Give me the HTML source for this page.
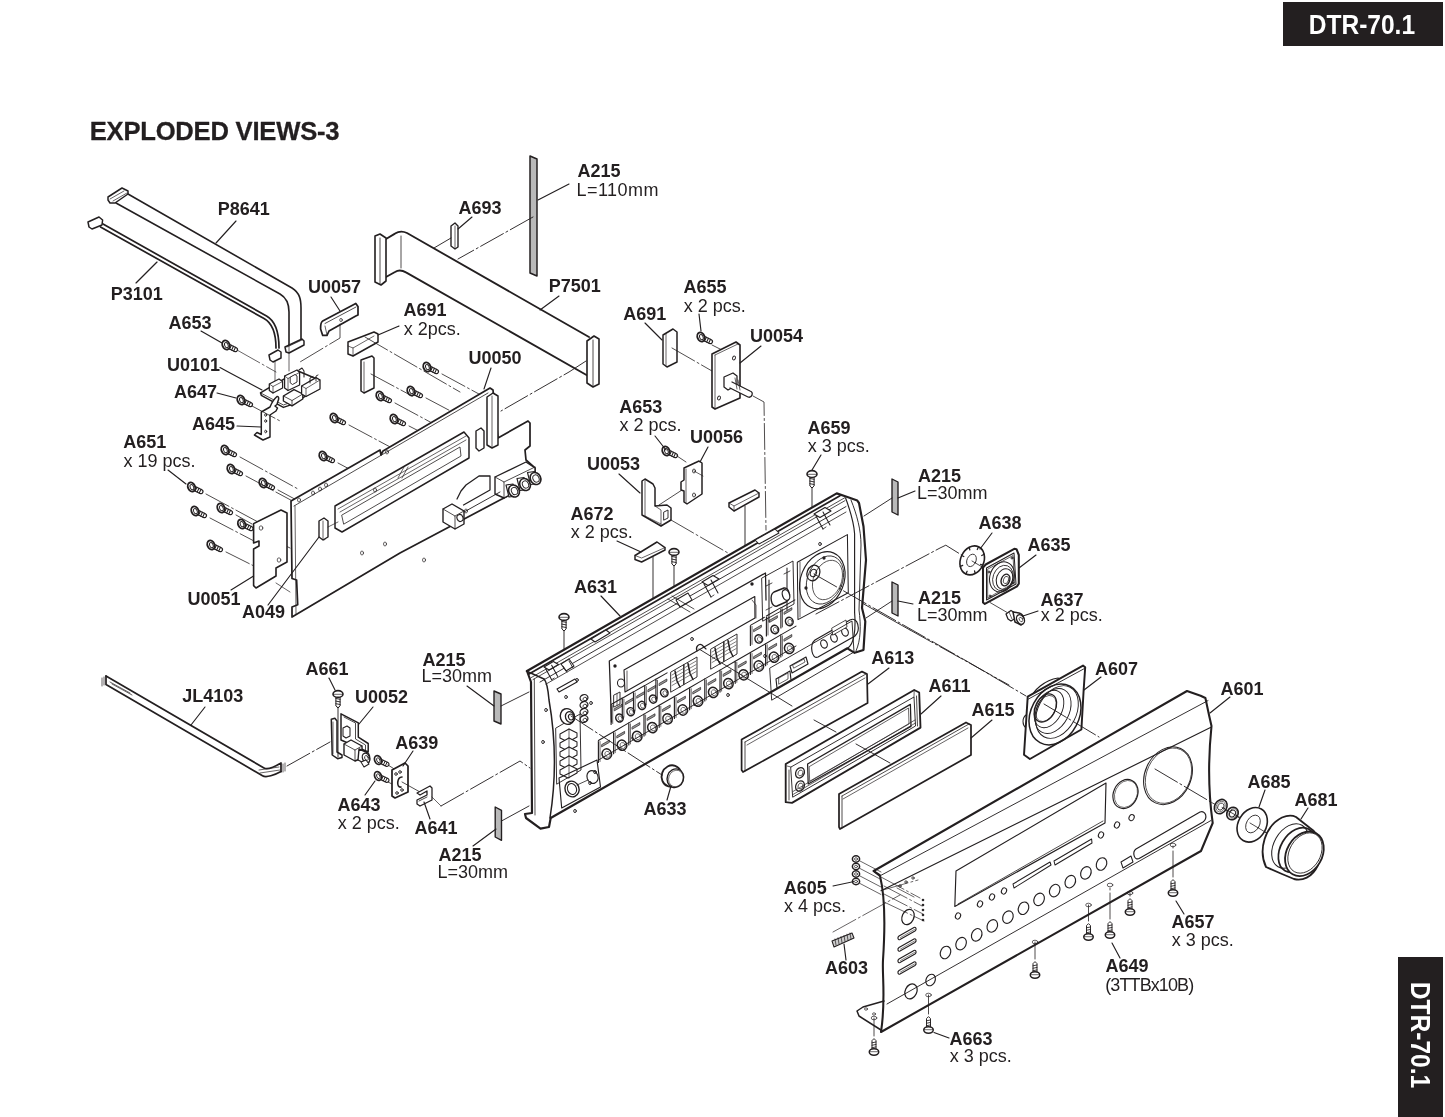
<!DOCTYPE html>
<html><head><meta charset="utf-8"><style>
html,body{margin:0;padding:0;background:#fff;}
body{width:1445px;height:1117px;overflow:hidden;position:relative;}
svg{position:absolute;left:0;top:0;will-change:transform;}
.b{font-family:"Liberation Sans",sans-serif;font-weight:bold;font-size:18px;fill:#231f20;}
.r{font-family:"Liberation Sans",sans-serif;font-size:18px;fill:#231f20;}
</style></head><body>
<svg width="1445" height="1117" viewBox="0 0 1445 1117" stroke-linecap="round" stroke-linejoin="round">
<polygon points="108,197 122,188 128,191 128,194 115,203 110,203 108,200" fill="#fff" stroke="#231f20" stroke-width="1.49" stroke-linejoin="round" />
<polyline points="110,199 124,191" fill="none" stroke="#231f20" stroke-width="0.69" />
<polyline points="113,201 127,193" fill="none" stroke="#231f20" stroke-width="0.69" />
<path d="M128,194 L292,288 C300,293 301,300 301,308 L301,339" fill="none" stroke="#231f20" stroke-width="1.61" />
<path d="M116,203 L280,294 C287,298 289,305 289,312 L289,345" fill="none" stroke="#231f20" stroke-width="1.61" />
<polygon points="285,347 302,339 304,341 304,345 289,353 286,352" fill="#fff" stroke="#231f20" stroke-width="1.49" stroke-linejoin="round" />
<polyline points="287,347 302,340" fill="none" stroke="#231f20" stroke-width="0.69" />
<polygon points="88,222 99,217 102.6,220 102,225 92,229 89,227" fill="#fff" stroke="#231f20" stroke-width="1.49" stroke-linejoin="round" />
<path d="M100.5,227 L264,318.5 C273,323.5 276,333 276,348" fill="none" stroke="#231f20" stroke-width="1.72" />
<path d="M103,224 L266.5,316 C275.5,321 279,332 279,348" fill="none" stroke="#231f20" stroke-width="1.72" />
<polygon points="269,355 278,350 281,352 281,358 273,362 270,360" fill="#fff" stroke="#231f20" stroke-width="1.49" stroke-linejoin="round" />
<path d="M386,239 L395,233.6 C399,231 403,231 407,233 L589,337" fill="none" stroke="#231f20" stroke-width="1.84" />
<path d="M386,277 L395,272 C398,270 402,270 406,272.4 L590,377" fill="none" stroke="#231f20" stroke-width="1.84" />
<polyline points="401,236 401,268" fill="none" stroke="#231f20" stroke-width="0.8" />
<polygon points="375,236 380,234 386,238 386,281 381,285 375,282" fill="#fff" stroke="#231f20" stroke-width="1.61" stroke-linejoin="round" />
<polyline points="380,238 380,284" fill="none" stroke="#231f20" stroke-width="0.8" />
<polygon points="587,341 594,336 599,339 599,384 593,387 587,383" fill="#fff" stroke="#231f20" stroke-width="1.61" stroke-linejoin="round" />
<polyline points="593,340 593,386" fill="none" stroke="#231f20" stroke-width="0.8" />
<polygon points="530,156 537,159 537,276 530,273" fill="#b9b9b9" stroke="#231f20" stroke-width="1.49" stroke-linejoin="round" />
<polygon points="451,226 455,223 458,226 458,247 455,249 451,246" fill="#fff" stroke="#231f20" stroke-width="1.38" stroke-linejoin="round" />
<polyline points="455,226 455,248" fill="none" stroke="#231f20" stroke-width="0.69" />
<polyline points="533,217 458,259" fill="none" stroke="#231f20" stroke-width="0.92" stroke-dasharray="26 3 2 3"/>
<polyline points="451,238 434,248" fill="none" stroke="#231f20" stroke-width="0.92" stroke-dasharray="26 3 2 3"/>
<path d="M322.7,321 L355.8,303.5 L358,306.6 L358,315 L355.8,316 L329,331 L327,335.4 L322.7,335.4 L320.6,329 C320.5,325 321,322 322.7,321 Z" fill="#fff" stroke="#231f20" stroke-width="1.72" />
<polyline points="325,323.5 356,307" fill="none" stroke="#231f20" stroke-width="0.8" />
<polyline points="327,335 325,326" fill="none" stroke="#231f20" stroke-width="0.69" />
<ellipse cx="341" cy="320" rx="1.3" ry="1.6" transform="rotate(0 341 320)" fill="none" stroke="#231f20" stroke-width="0.69"/>
<polyline points="340,324 340,338 300,362" fill="none" stroke="#231f20" stroke-width="0.8" stroke-dasharray="26 3 2 3"/>
<polyline points="289,345 289,352 289,390" fill="none" stroke="#231f20" stroke-width="0.69" stroke-dasharray="26 3 2 3"/>
<polyline points="275,362 275,385" fill="none" stroke="#231f20" stroke-width="0.69" stroke-dasharray="26 3 2 3"/>
<polyline points="237,350 276,372" fill="none" stroke="#231f20" stroke-width="0.69" stroke-dasharray="26 3 2 3"/>
<polygon points="260.5,392.9 268,388.4 298,371 319.3,380 319.3,388.8 307.6,394.9 291.5,404.6 283.4,407.4 261.3,395.3" fill="#fff" stroke="#231f20" stroke-width="1.49" stroke-linejoin="round" />
<polyline points="260.5,392.9 283.4,405 291.5,402 319.3,386.5" fill="none" stroke="#231f20" stroke-width="0.8" />
<polygon points="269.3,384 279,379 282.6,381.5 282.6,388 273,393 269.3,390.5" fill="#fff" stroke="#231f20" stroke-width="1.26" stroke-linejoin="round" />
<polyline points="269.3,384 273,386.5 282.6,381.5" fill="none" stroke="#231f20" stroke-width="0.69" />
<polyline points="273,386.5 273,393" fill="none" stroke="#231f20" stroke-width="0.69" />
<polygon points="284.6,376 297,370 299.6,372.5 299.6,385 288,390.5 284.6,388" fill="#fff" stroke="#231f20" stroke-width="1.26" stroke-linejoin="round" />
<polyline points="284.6,376 288,378.5 299.6,372.5" fill="none" stroke="#231f20" stroke-width="0.69" />
<polyline points="288,378.5 288,390.5" fill="none" stroke="#231f20" stroke-width="0.69" />
<polygon points="290.5,377 295,374.5 297,376 297,382 292.5,384.5 290.5,383" fill="#fff" stroke="#231f20" stroke-width="0.92" stroke-linejoin="round" />
<polygon points="283.4,396 294,389.6 302.8,394 302.8,399 292,405.8 283.4,401" fill="#fff" stroke="#231f20" stroke-width="1.38" stroke-linejoin="round" />
<polyline points="283.4,396 292,400.5 302.8,394" fill="none" stroke="#231f20" stroke-width="0.8" />
<polyline points="292,400.5 292,405.8" fill="none" stroke="#231f20" stroke-width="0.8" />
<polygon points="301.6,386 316,377.6 320,380 320,389 306,396.5 301.6,394" fill="#fff" stroke="#231f20" stroke-width="1.26" stroke-linejoin="round" />
<polyline points="301.6,386 306,388.5 320,380" fill="none" stroke="#231f20" stroke-width="0.69" />
<polyline points="306,388.5 306,396.5" fill="none" stroke="#231f20" stroke-width="0.69" />
<polyline points="310,383 310,378 313,376.5" fill="none" stroke="#231f20" stroke-width="0.92" />
<polyline points="316,381 316,376 318,375" fill="none" stroke="#231f20" stroke-width="0.92" />
<polyline points="299,370 302,368 304,371 304,377" fill="none" stroke="#231f20" stroke-width="1.03" />
<path d="M261.3,412 L270,407 C272,402 274,399 277,396.5 C279,396 279,399 278,401 L277,404.5 L275,406 L277.5,408 L276,411 L270,415 L270,437 L263,440 L254.4,435 L257,432.5 L261.3,434.5 Z" fill="#fff" stroke="#231f20" stroke-width="1.49" />
<ellipse cx="265.7" cy="415" rx="1" ry="1.3" transform="rotate(0 265.7 415)" fill="none" stroke="#231f20" stroke-width="0.92"/>
<ellipse cx="265.7" cy="421" rx="1" ry="1.3" transform="rotate(0 265.7 421)" fill="none" stroke="#231f20" stroke-width="0.92"/>
<ellipse cx="265.7" cy="431.5" rx="1" ry="1.3" transform="rotate(0 265.7 431.5)" fill="none" stroke="#231f20" stroke-width="0.92"/>
<path d="M226.88,347.76 L234.52,351.49 A2.1,2.1 0 0 0 236.36,347.72 L228.72,343.99 Z" fill="#fff" stroke="#231f20" stroke-width="1.2"/>
<polyline points="229.57,349.08 231.41,345.3" fill="none" stroke="#231f20" stroke-width="1.03" />
<polyline points="231.64,350.09 233.48,346.31" fill="none" stroke="#231f20" stroke-width="1.03" />
<polyline points="233.71,351.1 235.55,347.32" fill="none" stroke="#231f20" stroke-width="1.03" />
<ellipse cx="226" cy="345" rx="3.5" ry="4.8" transform="rotate(-22 226 345)" fill="#fff" stroke="#231f20" stroke-width="1.84"/>
<ellipse cx="226.4" cy="345.2" rx="1.7" ry="2.7" transform="rotate(-22 226.4 345.2)" fill="none" stroke="#231f20" stroke-width="0.92"/>
<path d="M241.88,402.76 L249.52,406.49 A2.1,2.1 0 0 0 251.36,402.72 L243.72,398.99 Z" fill="#fff" stroke="#231f20" stroke-width="1.2"/>
<polyline points="244.57,404.08 246.41,400.3" fill="none" stroke="#231f20" stroke-width="1.03" />
<polyline points="246.64,405.09 248.48,401.31" fill="none" stroke="#231f20" stroke-width="1.03" />
<polyline points="248.71,406.1 250.55,402.32" fill="none" stroke="#231f20" stroke-width="1.03" />
<ellipse cx="241" cy="400" rx="3.5" ry="4.8" transform="rotate(-22 241 400)" fill="#fff" stroke="#231f20" stroke-width="1.84"/>
<ellipse cx="241.4" cy="400.2" rx="1.7" ry="2.7" transform="rotate(-22 241.4 400.2)" fill="none" stroke="#231f20" stroke-width="0.92"/>
<path d="M334.88,420.76 L342.52,424.49 A2.1,2.1 0 0 0 344.36,420.72 L336.72,416.99 Z" fill="#fff" stroke="#231f20" stroke-width="1.2"/>
<polyline points="337.57,422.08 339.41,418.3" fill="none" stroke="#231f20" stroke-width="1.03" />
<polyline points="339.64,423.09 341.48,419.31" fill="none" stroke="#231f20" stroke-width="1.03" />
<polyline points="341.71,424.1 343.55,420.32" fill="none" stroke="#231f20" stroke-width="1.03" />
<ellipse cx="334" cy="418" rx="3.5" ry="4.8" transform="rotate(-22 334 418)" fill="#fff" stroke="#231f20" stroke-width="1.84"/>
<ellipse cx="334.4" cy="418.2" rx="1.7" ry="2.7" transform="rotate(-22 334.4 418.2)" fill="none" stroke="#231f20" stroke-width="0.92"/>
<path d="M225.88,452.76 L233.52,456.49 A2.1,2.1 0 0 0 235.36,452.72 L227.72,448.99 Z" fill="#fff" stroke="#231f20" stroke-width="1.2"/>
<polyline points="228.57,454.08 230.41,450.3" fill="none" stroke="#231f20" stroke-width="1.03" />
<polyline points="230.64,455.09 232.48,451.31" fill="none" stroke="#231f20" stroke-width="1.03" />
<polyline points="232.71,456.1 234.55,452.32" fill="none" stroke="#231f20" stroke-width="1.03" />
<ellipse cx="225" cy="450" rx="3.5" ry="4.8" transform="rotate(-22 225 450)" fill="#fff" stroke="#231f20" stroke-width="1.84"/>
<ellipse cx="225.4" cy="450.2" rx="1.7" ry="2.7" transform="rotate(-22 225.4 450.2)" fill="none" stroke="#231f20" stroke-width="0.92"/>
<path d="M323.88,458.76 L331.52,462.49 A2.1,2.1 0 0 0 333.36,458.72 L325.72,454.99 Z" fill="#fff" stroke="#231f20" stroke-width="1.2"/>
<polyline points="326.57,460.08 328.41,456.3" fill="none" stroke="#231f20" stroke-width="1.03" />
<polyline points="328.64,461.09 330.48,457.31" fill="none" stroke="#231f20" stroke-width="1.03" />
<polyline points="330.71,462.1 332.55,458.32" fill="none" stroke="#231f20" stroke-width="1.03" />
<ellipse cx="323" cy="456" rx="3.5" ry="4.8" transform="rotate(-22 323 456)" fill="#fff" stroke="#231f20" stroke-width="1.84"/>
<ellipse cx="323.4" cy="456.2" rx="1.7" ry="2.7" transform="rotate(-22 323.4 456.2)" fill="none" stroke="#231f20" stroke-width="0.92"/>
<path d="M231.88,471.76 L239.52,475.49 A2.1,2.1 0 0 0 241.36,471.72 L233.72,467.99 Z" fill="#fff" stroke="#231f20" stroke-width="1.2"/>
<polyline points="234.57,473.08 236.41,469.3" fill="none" stroke="#231f20" stroke-width="1.03" />
<polyline points="236.64,474.09 238.48,470.31" fill="none" stroke="#231f20" stroke-width="1.03" />
<polyline points="238.71,475.1 240.55,471.32" fill="none" stroke="#231f20" stroke-width="1.03" />
<ellipse cx="231" cy="469" rx="3.5" ry="4.8" transform="rotate(-22 231 469)" fill="#fff" stroke="#231f20" stroke-width="1.84"/>
<ellipse cx="231.4" cy="469.2" rx="1.7" ry="2.7" transform="rotate(-22 231.4 469.2)" fill="none" stroke="#231f20" stroke-width="0.92"/>
<path d="M263.88,485.76 L271.52,489.49 A2.1,2.1 0 0 0 273.36,485.72 L265.72,481.99 Z" fill="#fff" stroke="#231f20" stroke-width="1.2"/>
<polyline points="266.57,487.08 268.41,483.3" fill="none" stroke="#231f20" stroke-width="1.03" />
<polyline points="268.64,488.09 270.48,484.31" fill="none" stroke="#231f20" stroke-width="1.03" />
<polyline points="270.71,489.1 272.55,485.32" fill="none" stroke="#231f20" stroke-width="1.03" />
<ellipse cx="263" cy="483" rx="3.5" ry="4.8" transform="rotate(-22 263 483)" fill="#fff" stroke="#231f20" stroke-width="1.84"/>
<ellipse cx="263.4" cy="483.2" rx="1.7" ry="2.7" transform="rotate(-22 263.4 483.2)" fill="none" stroke="#231f20" stroke-width="0.92"/>
<path d="M192.38,489.76 L200.02,493.49 A2.1,2.1 0 0 0 201.86,489.72 L194.22,485.99 Z" fill="#fff" stroke="#231f20" stroke-width="1.2"/>
<polyline points="195.07,491.08 196.91,487.3" fill="none" stroke="#231f20" stroke-width="1.03" />
<polyline points="197.14,492.09 198.98,488.31" fill="none" stroke="#231f20" stroke-width="1.03" />
<polyline points="199.21,493.1 201.05,489.32" fill="none" stroke="#231f20" stroke-width="1.03" />
<ellipse cx="191.5" cy="487" rx="3.5" ry="4.8" transform="rotate(-22 191.5 487)" fill="#fff" stroke="#231f20" stroke-width="1.84"/>
<ellipse cx="191.9" cy="487.2" rx="1.7" ry="2.7" transform="rotate(-22 191.9 487.2)" fill="none" stroke="#231f20" stroke-width="0.92"/>
<path d="M221.88,510.76 L229.52,514.49 A2.1,2.1 0 0 0 231.36,510.72 L223.72,506.99 Z" fill="#fff" stroke="#231f20" stroke-width="1.2"/>
<polyline points="224.57,512.08 226.41,508.3" fill="none" stroke="#231f20" stroke-width="1.03" />
<polyline points="226.64,513.09 228.48,509.31" fill="none" stroke="#231f20" stroke-width="1.03" />
<polyline points="228.71,514.1 230.55,510.32" fill="none" stroke="#231f20" stroke-width="1.03" />
<ellipse cx="221" cy="508" rx="3.5" ry="4.8" transform="rotate(-22 221 508)" fill="#fff" stroke="#231f20" stroke-width="1.84"/>
<ellipse cx="221.4" cy="508.2" rx="1.7" ry="2.7" transform="rotate(-22 221.4 508.2)" fill="none" stroke="#231f20" stroke-width="0.92"/>
<path d="M195.88,513.76 L203.52,517.49 A2.1,2.1 0 0 0 205.36,513.72 L197.72,509.99 Z" fill="#fff" stroke="#231f20" stroke-width="1.2"/>
<polyline points="198.57,515.08 200.41,511.3" fill="none" stroke="#231f20" stroke-width="1.03" />
<polyline points="200.64,516.09 202.48,512.31" fill="none" stroke="#231f20" stroke-width="1.03" />
<polyline points="202.71,517.1 204.55,513.32" fill="none" stroke="#231f20" stroke-width="1.03" />
<ellipse cx="195" cy="511" rx="3.5" ry="4.8" transform="rotate(-22 195 511)" fill="#fff" stroke="#231f20" stroke-width="1.84"/>
<ellipse cx="195.4" cy="511.2" rx="1.7" ry="2.7" transform="rotate(-22 195.4 511.2)" fill="none" stroke="#231f20" stroke-width="0.92"/>
<path d="M242.48,526.76 L250.12,530.49 A2.1,2.1 0 0 0 251.96,526.72 L244.32,522.99 Z" fill="#fff" stroke="#231f20" stroke-width="1.2"/>
<polyline points="245.17,528.08 247.01,524.3" fill="none" stroke="#231f20" stroke-width="1.03" />
<polyline points="247.24,529.09 249.08,525.31" fill="none" stroke="#231f20" stroke-width="1.03" />
<polyline points="249.31,530.1 251.15,526.32" fill="none" stroke="#231f20" stroke-width="1.03" />
<ellipse cx="241.6" cy="524" rx="3.5" ry="4.8" transform="rotate(-22 241.6 524)" fill="#fff" stroke="#231f20" stroke-width="1.84"/>
<ellipse cx="242" cy="524.2" rx="1.7" ry="2.7" transform="rotate(-22 242 524.2)" fill="none" stroke="#231f20" stroke-width="0.92"/>
<path d="M211.88,547.76 L219.52,551.49 A2.1,2.1 0 0 0 221.36,547.72 L213.72,543.99 Z" fill="#fff" stroke="#231f20" stroke-width="1.2"/>
<polyline points="214.57,549.08 216.41,545.3" fill="none" stroke="#231f20" stroke-width="1.03" />
<polyline points="216.64,550.09 218.48,546.31" fill="none" stroke="#231f20" stroke-width="1.03" />
<polyline points="218.71,551.1 220.55,547.32" fill="none" stroke="#231f20" stroke-width="1.03" />
<ellipse cx="211" cy="545" rx="3.5" ry="4.8" transform="rotate(-22 211 545)" fill="#fff" stroke="#231f20" stroke-width="1.84"/>
<ellipse cx="211.4" cy="545.2" rx="1.7" ry="2.7" transform="rotate(-22 211.4 545.2)" fill="none" stroke="#231f20" stroke-width="0.92"/>
<path d="M380.88,398.76 L388.52,402.49 A2.1,2.1 0 0 0 390.36,398.72 L382.72,394.99 Z" fill="#fff" stroke="#231f20" stroke-width="1.2"/>
<polyline points="383.57,400.08 385.41,396.3" fill="none" stroke="#231f20" stroke-width="1.03" />
<polyline points="385.64,401.09 387.48,397.31" fill="none" stroke="#231f20" stroke-width="1.03" />
<polyline points="387.71,402.1 389.55,398.32" fill="none" stroke="#231f20" stroke-width="1.03" />
<ellipse cx="380" cy="396" rx="3.5" ry="4.8" transform="rotate(-22 380 396)" fill="#fff" stroke="#231f20" stroke-width="1.84"/>
<ellipse cx="380.4" cy="396.2" rx="1.7" ry="2.7" transform="rotate(-22 380.4 396.2)" fill="none" stroke="#231f20" stroke-width="0.92"/>
<path d="M411.88,393.76 L419.52,397.49 A2.1,2.1 0 0 0 421.36,393.72 L413.72,389.99 Z" fill="#fff" stroke="#231f20" stroke-width="1.2"/>
<polyline points="414.57,395.08 416.41,391.3" fill="none" stroke="#231f20" stroke-width="1.03" />
<polyline points="416.64,396.09 418.48,392.31" fill="none" stroke="#231f20" stroke-width="1.03" />
<polyline points="418.71,397.1 420.55,393.32" fill="none" stroke="#231f20" stroke-width="1.03" />
<ellipse cx="411" cy="391" rx="3.5" ry="4.8" transform="rotate(-22 411 391)" fill="#fff" stroke="#231f20" stroke-width="1.84"/>
<ellipse cx="411.4" cy="391.2" rx="1.7" ry="2.7" transform="rotate(-22 411.4 391.2)" fill="none" stroke="#231f20" stroke-width="0.92"/>
<path d="M427.88,369.76 L435.52,373.49 A2.1,2.1 0 0 0 437.36,369.72 L429.72,365.99 Z" fill="#fff" stroke="#231f20" stroke-width="1.2"/>
<polyline points="430.57,371.08 432.41,367.3" fill="none" stroke="#231f20" stroke-width="1.03" />
<polyline points="432.64,372.09 434.48,368.31" fill="none" stroke="#231f20" stroke-width="1.03" />
<polyline points="434.71,373.1 436.55,369.32" fill="none" stroke="#231f20" stroke-width="1.03" />
<ellipse cx="427" cy="367" rx="3.5" ry="4.8" transform="rotate(-22 427 367)" fill="#fff" stroke="#231f20" stroke-width="1.84"/>
<ellipse cx="427.4" cy="367.2" rx="1.7" ry="2.7" transform="rotate(-22 427.4 367.2)" fill="none" stroke="#231f20" stroke-width="0.92"/>
<path d="M394.88,421.76 L402.52,425.49 A2.1,2.1 0 0 0 404.36,421.72 L396.72,417.99 Z" fill="#fff" stroke="#231f20" stroke-width="1.2"/>
<polyline points="397.57,423.08 399.41,419.3" fill="none" stroke="#231f20" stroke-width="1.03" />
<polyline points="399.64,424.09 401.48,420.31" fill="none" stroke="#231f20" stroke-width="1.03" />
<polyline points="401.71,425.1 403.55,421.32" fill="none" stroke="#231f20" stroke-width="1.03" />
<ellipse cx="394" cy="419" rx="3.5" ry="4.8" transform="rotate(-22 394 419)" fill="#fff" stroke="#231f20" stroke-width="1.84"/>
<ellipse cx="394.4" cy="419.2" rx="1.7" ry="2.7" transform="rotate(-22 394.4 419.2)" fill="none" stroke="#231f20" stroke-width="0.92"/>
<polyline points="252,406 282,422" fill="none" stroke="#231f20" stroke-width="0.8" stroke-dasharray="26 3 2 3"/>
<polyline points="349,425 392,448" fill="none" stroke="#231f20" stroke-width="0.8" stroke-dasharray="26 3 2 3"/>
<polyline points="240,457 298,489" fill="none" stroke="#231f20" stroke-width="0.8" stroke-dasharray="26 3 2 3"/>
<polyline points="338,463 385,488" fill="none" stroke="#231f20" stroke-width="0.8" stroke-dasharray="26 3 2 3"/>
<polyline points="246,476 300,505" fill="none" stroke="#231f20" stroke-width="0.8" stroke-dasharray="26 3 2 3"/>
<polyline points="278,490 302,503" fill="none" stroke="#231f20" stroke-width="0.8" stroke-dasharray="26 3 2 3"/>
<polyline points="206,494 258,522" fill="none" stroke="#231f20" stroke-width="0.8" stroke-dasharray="26 3 2 3"/>
<polyline points="236,515 252,524" fill="none" stroke="#231f20" stroke-width="0.8" stroke-dasharray="26 3 2 3"/>
<polyline points="210,518 254,541" fill="none" stroke="#231f20" stroke-width="0.8" stroke-dasharray="26 3 2 3"/>
<polyline points="256,531 290,548" fill="none" stroke="#231f20" stroke-width="0.8" stroke-dasharray="26 3 2 3"/>
<polyline points="226,552 254,566" fill="none" stroke="#231f20" stroke-width="0.8" stroke-dasharray="26 3 2 3"/>
<polyline points="395,403 432,423" fill="none" stroke="#231f20" stroke-width="0.8" stroke-dasharray="26 3 2 3"/>
<polyline points="426,398 460,416" fill="none" stroke="#231f20" stroke-width="0.8" stroke-dasharray="26 3 2 3"/>
<polyline points="442,374 490,400" fill="none" stroke="#231f20" stroke-width="0.8" stroke-dasharray="26 3 2 3"/>
<polyline points="409,426 450,447" fill="none" stroke="#231f20" stroke-width="0.8" stroke-dasharray="26 3 2 3"/>
<polygon points="291,501 380,450 381,455 383,451 490,388 493,390 498,438 528,421 530,423 530,446 525,450 526,460 535,468 535,481 504,498 500,500 400,553 292,617 292,607 297.7,604.8 296.6,580 292,578.5" fill="#fff" stroke="#231f20" stroke-width="1.72" stroke-linejoin="round" />
<polyline points="294,506 488,393" fill="none" stroke="#231f20" stroke-width="0.8" />
<polyline points="295,506 296,614" fill="none" stroke="#231f20" stroke-width="0.69" />
<polygon points="335,506 464,432 469,438 469,458 342,532 335,528" fill="#fff" stroke="#231f20" stroke-width="1.49" stroke-linejoin="round" />
<polygon points="342,515 460,447 461,456 344,524" fill="#fff" stroke="#231f20" stroke-width="0.8" stroke-linejoin="round" />
<polyline points="338,509 466,436" fill="none" stroke="#231f20" stroke-width="0.69" />
<polyline points="340,512 466,440" fill="none" stroke="#231f20" stroke-width="0.69" />
<polyline points="398,478 404,467" fill="none" stroke="#231f20" stroke-width="0.69" />
<polyline points="402,478 408,467" fill="none" stroke="#231f20" stroke-width="0.69" />
<polygon points="487,397 493,393 498,396 498,445 492,448 487,445" fill="#fff" stroke="#231f20" stroke-width="1.49" stroke-linejoin="round" />
<polyline points="492,396 492,447" fill="none" stroke="#231f20" stroke-width="0.69" />
<polygon points="476,431 481,428 484,431 484,448 479,451 476,448" fill="#fff" stroke="#231f20" stroke-width="1.38" stroke-linejoin="round" />
<polygon points="495,477 526,462 535,468 535,481 504,498 495,494" fill="#fff" stroke="#231f20" stroke-width="1.38" stroke-linejoin="round" />
<polyline points="495,477 504,482 504,498" fill="none" stroke="#231f20" stroke-width="0.8" />
<polyline points="504,482 535,467" fill="none" stroke="#231f20" stroke-width="0.8" />
<path d="M506,485 L513,484 L517,496 L509,497 Z" fill="#fff" stroke="#231f20" stroke-width="1.15" />
<ellipse cx="514" cy="491" rx="5.2" ry="6.2" transform="rotate(-25 514 491)" fill="#fff" stroke="#231f20" stroke-width="1.61"/>
<ellipse cx="514.5" cy="491" rx="3" ry="3.8" transform="rotate(-25 514.5 491)" fill="none" stroke="#231f20" stroke-width="0.92"/>
<path d="M517,478.5 L524,477.5 L528,489.5 L520,490.5 Z" fill="#fff" stroke="#231f20" stroke-width="1.15" />
<ellipse cx="525" cy="484.5" rx="5.2" ry="6.2" transform="rotate(-25 525 484.5)" fill="#fff" stroke="#231f20" stroke-width="1.61"/>
<ellipse cx="525.5" cy="484.5" rx="3" ry="3.8" transform="rotate(-25 525.5 484.5)" fill="none" stroke="#231f20" stroke-width="0.92"/>
<path d="M527.5,472.5 L534.5,471.5 L538.5,483.5 L530.5,484.5 Z" fill="#fff" stroke="#231f20" stroke-width="1.15" />
<ellipse cx="535.5" cy="478.5" rx="5.2" ry="6.2" transform="rotate(-25 535.5 478.5)" fill="#fff" stroke="#231f20" stroke-width="1.61"/>
<ellipse cx="536" cy="478.5" rx="3" ry="3.8" transform="rotate(-25 536 478.5)" fill="none" stroke="#231f20" stroke-width="0.92"/>
<polygon points="443,509 452,504 464,511 464,524 455,529 443,522" fill="#fff" stroke="#231f20" stroke-width="1.38" stroke-linejoin="round" />
<polyline points="443,509 455,516 455,529" fill="none" stroke="#231f20" stroke-width="0.8" />
<polyline points="455,516 464,511" fill="none" stroke="#231f20" stroke-width="0.8" />
<ellipse cx="460" cy="518" rx="3" ry="3.5" transform="rotate(-20 460 518)" fill="#fff" stroke="#231f20" stroke-width="1.15"/>
<path d="M457,499 L461,491 L466,485 L479,476 L490,476 L490,490 L463.5,505" fill="none" stroke="#231f20" stroke-width="1.26" />
<polyline points="464,512 500,492" fill="none" stroke="#231f20" stroke-width="0.92" />
<ellipse cx="299" cy="500" rx="1.5" ry="2" transform="rotate(0 299 500)" fill="none" stroke="#231f20" stroke-width="0.69"/>
<ellipse cx="313" cy="493" rx="1.5" ry="2" transform="rotate(0 313 493)" fill="none" stroke="#231f20" stroke-width="0.69"/>
<ellipse cx="320" cy="489" rx="1.5" ry="2" transform="rotate(0 320 489)" fill="none" stroke="#231f20" stroke-width="0.69"/>
<ellipse cx="326" cy="485" rx="1.5" ry="2" transform="rotate(0 326 485)" fill="none" stroke="#231f20" stroke-width="0.69"/>
<ellipse cx="387" cy="452" rx="1.5" ry="2" transform="rotate(0 387 452)" fill="none" stroke="#231f20" stroke-width="0.69"/>
<ellipse cx="466" cy="511" rx="1.5" ry="2" transform="rotate(0 466 511)" fill="none" stroke="#231f20" stroke-width="0.69"/>
<ellipse cx="324" cy="538" rx="1.5" ry="2" transform="rotate(0 324 538)" fill="none" stroke="#231f20" stroke-width="0.69"/>
<ellipse cx="362" cy="553" rx="1.5" ry="2" transform="rotate(0 362 553)" fill="none" stroke="#231f20" stroke-width="0.69"/>
<ellipse cx="385" cy="544" rx="1.5" ry="2" transform="rotate(0 385 544)" fill="none" stroke="#231f20" stroke-width="0.69"/>
<ellipse cx="424" cy="560" rx="1.5" ry="2" transform="rotate(0 424 560)" fill="none" stroke="#231f20" stroke-width="0.69"/>
<ellipse cx="375" cy="490" rx="1.5" ry="2" transform="rotate(0 375 490)" fill="none" stroke="#231f20" stroke-width="0.69"/>
<polygon points="253.6,523.6 281,510 287,513 287,562 276,568 276,576 256,588 253.6,585.6 253.6,549 259,546 259,541 253.6,543" fill="#fff" stroke="#231f20" stroke-width="1.61" stroke-linejoin="round" />
<ellipse cx="261" cy="528" rx="1.8" ry="2.2" transform="rotate(0 261 528)" fill="none" stroke="#231f20" stroke-width="0.69"/>
<ellipse cx="279" cy="560" rx="1.8" ry="2.2" transform="rotate(0 279 560)" fill="none" stroke="#231f20" stroke-width="0.69"/>
<polygon points="319,521 324,518 328,521 328,537 323,540 319,537" fill="#fff" stroke="#231f20" stroke-width="1.38" stroke-linejoin="round" />
<polyline points="323,521 323,539" fill="none" stroke="#231f20" stroke-width="0.69" />
<polyline points="328,527 338,522" fill="none" stroke="#231f20" stroke-width="0.69" stroke-dasharray="26 3 2 3"/>
<polyline points="276,583 290,592" fill="none" stroke="#231f20" stroke-width="0.69" stroke-dasharray="26 3 2 3"/>
<polyline points="586,361 569,372 501,411" fill="none" stroke="#231f20" stroke-width="0.92" stroke-dasharray="26 3 2 3"/>
<polygon points="348,342 374,332 378,334 378,342 353,356 348,354" fill="#fff" stroke="#231f20" stroke-width="1.49" stroke-linejoin="round" />
<polyline points="348,346 353,348 374,336" fill="none" stroke="#231f20" stroke-width="0.69" />
<polyline points="353,348 353,356" fill="none" stroke="#231f20" stroke-width="0.69" />
<polygon points="361,360 372,356 374,358 374,388 364,393 361,391" fill="#fff" stroke="#231f20" stroke-width="1.49" stroke-linejoin="round" />
<polyline points="364,362 364,393" fill="none" stroke="#231f20" stroke-width="0.69" />
<polyline points="365,337 460,392" fill="none" stroke="#231f20" stroke-width="0.8" stroke-dasharray="26 3 2 3"/>
<polyline points="371,374 412,396" fill="none" stroke="#231f20" stroke-width="0.8" stroke-dasharray="26 3 2 3"/>
<polygon points="663,335 673,329 677,332 677,362 667,367 663,364" fill="#fff" stroke="#231f20" stroke-width="1.49" stroke-linejoin="round" />
<polyline points="666,334 666,366" fill="none" stroke="#231f20" stroke-width="0.69" />
<polyline points="672,348 712,371" fill="none" stroke="#231f20" stroke-width="0.8" stroke-dasharray="26 3 2 3"/>
<path d="M701.88,339.76 L709.52,343.49 A2.1,2.1 0 0 0 711.36,339.72 L703.72,335.99 Z" fill="#fff" stroke="#231f20" stroke-width="1.2"/>
<polyline points="704.57,341.08 706.41,337.3" fill="none" stroke="#231f20" stroke-width="1.03" />
<polyline points="706.64,342.09 708.48,338.31" fill="none" stroke="#231f20" stroke-width="1.03" />
<polyline points="708.71,343.1 710.55,339.32" fill="none" stroke="#231f20" stroke-width="1.03" />
<ellipse cx="701" cy="337" rx="3.5" ry="4.8" transform="rotate(-22 701 337)" fill="#fff" stroke="#231f20" stroke-width="1.84"/>
<ellipse cx="701.4" cy="337.2" rx="1.7" ry="2.7" transform="rotate(-22 701.4 337.2)" fill="none" stroke="#231f20" stroke-width="0.92"/>
<polyline points="712,345 722,350" fill="none" stroke="#231f20" stroke-width="0.8" stroke-dasharray="26 3 2 3"/>
<polygon points="712,354 736,342 740,345 740,398 715,409 712,407" fill="#fff" stroke="#231f20" stroke-width="1.61" stroke-linejoin="round" />
<polyline points="715,355 738,344" fill="none" stroke="#231f20" stroke-width="0.69" />
<polyline points="715,355 715,409" fill="none" stroke="#231f20" stroke-width="0.69" />
<ellipse cx="734" cy="358" rx="1.4" ry="2" transform="rotate(20 734 358)" fill="none" stroke="#231f20" stroke-width="0.92"/>
<ellipse cx="719" cy="398" rx="1.4" ry="2" transform="rotate(20 719 398)" fill="none" stroke="#231f20" stroke-width="0.92"/>
<polygon points="724,377 733,373 737,376 737,385 728,390 724,387" fill="#fff" stroke="#231f20" stroke-width="1.26" stroke-linejoin="round" />
<path d="M732,382 L750,391 A2.5,2.5 0 0 1 748,397 L730,388" fill="#fff" stroke="#231f20" stroke-width="1.26" />
<polyline points="735,378 737,389" fill="none" stroke="#231f20" stroke-width="0.69" />
<polyline points="738,380 740,390" fill="none" stroke="#231f20" stroke-width="0.69" />
<polyline points="753,396 764,402 766,530" fill="none" stroke="#231f20" stroke-width="0.8" stroke-dasharray="26 3 2 3"/>
<path d="M666.88,453.76 L674.52,457.49 A2.1,2.1 0 0 0 676.36,453.72 L668.72,449.99 Z" fill="#fff" stroke="#231f20" stroke-width="1.2"/>
<polyline points="669.57,455.08 671.41,451.3" fill="none" stroke="#231f20" stroke-width="1.03" />
<polyline points="671.64,456.09 673.48,452.31" fill="none" stroke="#231f20" stroke-width="1.03" />
<polyline points="673.71,457.1 675.55,453.32" fill="none" stroke="#231f20" stroke-width="1.03" />
<ellipse cx="666" cy="451" rx="3.5" ry="4.8" transform="rotate(-22 666 451)" fill="#fff" stroke="#231f20" stroke-width="1.84"/>
<ellipse cx="666.4" cy="451.2" rx="1.7" ry="2.7" transform="rotate(-22 666.4 451.2)" fill="none" stroke="#231f20" stroke-width="0.92"/>
<polyline points="677,456 686,462" fill="none" stroke="#231f20" stroke-width="0.8" stroke-dasharray="26 3 2 3"/>
<polygon points="684,468 699,461 702,463 702,494 687,504 684,502 684,491 681,490 681,482 684,480" fill="#fff" stroke="#231f20" stroke-width="1.49" stroke-linejoin="round" />
<polyline points="686,469 686,503" fill="none" stroke="#231f20" stroke-width="0.69" />
<ellipse cx="694" cy="471" rx="1.5" ry="2" transform="rotate(0 694 471)" fill="none" stroke="#231f20" stroke-width="0.8"/>
<ellipse cx="694" cy="495" rx="1.5" ry="2" transform="rotate(0 694 495)" fill="none" stroke="#231f20" stroke-width="0.8"/>
<polyline points="694,471 703,476" fill="none" stroke="#231f20" stroke-width="0.69" stroke-dasharray="26 3 2 3"/>
<polygon points="642,481 645,479 653,484 655,488 655,506 667,505 671,508 671,520 661,526 642,515" fill="#fff" stroke="#231f20" stroke-width="1.49" stroke-linejoin="round" />
<polyline points="645,480 645,516" fill="none" stroke="#231f20" stroke-width="0.69" />
<polyline points="645,516 661,524" fill="none" stroke="#231f20" stroke-width="0.69" />
<polyline points="655,506 661,510 661,526" fill="none" stroke="#231f20" stroke-width="0.69" />
<polygon points="664,512 668,510 668,518 664,520" fill="#fff" stroke="#231f20" stroke-width="0.92" stroke-linejoin="round" />
<polyline points="659,505 682,490" fill="none" stroke="#231f20" stroke-width="0.8" stroke-dasharray="26 3 2 3"/>
<polyline points="671,520 728,553" fill="none" stroke="#231f20" stroke-width="0.8" stroke-dasharray="26 3 2 3"/>
<polygon points="729,503 755,490 759,493 759,497 734,511 729,507" fill="#fff" stroke="#231f20" stroke-width="1.49" stroke-linejoin="round" />
<polyline points="729,503 734,506 759,493" fill="none" stroke="#231f20" stroke-width="0.69" />
<polyline points="734,506 734,511" fill="none" stroke="#231f20" stroke-width="0.69" />
<polyline points="745,506 745,553" fill="none" stroke="#231f20" stroke-width="0.92" />
<polygon points="635,555.5 657,542 665,547.6 665,550 641.6,562 635,559.5" fill="#fff" stroke="#231f20" stroke-width="1.49" stroke-linejoin="round" />
<polyline points="635,555.5 641.6,558 665,547.6" fill="none" stroke="#231f20" stroke-width="0.69" />
<polyline points="653,557 653,605" fill="none" stroke="#231f20" stroke-width="0.92" />
<path d="M809.9,476 L809.9,486 L812,488 L814.1,486 L814.1,476 Z" fill="#fff" stroke="#231f20" stroke-width="1"/>
<polyline points="809.9,478.5 814.1,479.3" fill="none" stroke="#231f20" stroke-width="0.92" />
<polyline points="809.9,481.1 814.1,481.9" fill="none" stroke="#231f20" stroke-width="0.92" />
<polyline points="809.9,483.7 814.1,484.5" fill="none" stroke="#231f20" stroke-width="0.92" />
<ellipse cx="812" cy="474" rx="5" ry="3.4" transform="rotate(0 812 474)" fill="#fff" stroke="#231f20" stroke-width="1.55"/>
<polyline points="807.2,474.3 816.8,474.3" fill="none" stroke="#231f20" stroke-width="0.69" />
<polyline points="812,488 812,521" fill="none" stroke="#231f20" stroke-width="0.92" />
<path d="M671.9,554 L671.9,564 L674,566 L676.1,564 L676.1,554 Z" fill="#fff" stroke="#231f20" stroke-width="1"/>
<polyline points="671.9,556.5 676.1,557.3" fill="none" stroke="#231f20" stroke-width="0.92" />
<polyline points="671.9,559.1 676.1,559.9" fill="none" stroke="#231f20" stroke-width="0.92" />
<polyline points="671.9,561.7 676.1,562.5" fill="none" stroke="#231f20" stroke-width="0.92" />
<ellipse cx="674" cy="552" rx="5" ry="3.4" transform="rotate(0 674 552)" fill="#fff" stroke="#231f20" stroke-width="1.55"/>
<polyline points="669.2,552.3 678.8,552.3" fill="none" stroke="#231f20" stroke-width="0.69" />
<polyline points="674,566 674,599" fill="none" stroke="#231f20" stroke-width="0.92" />
<path d="M561.9,619 L561.9,629 L564,631 L566.1,629 L566.1,619 Z" fill="#fff" stroke="#231f20" stroke-width="1"/>
<polyline points="561.9,621.5 566.1,622.3" fill="none" stroke="#231f20" stroke-width="0.92" />
<polyline points="561.9,624.1 566.1,624.9" fill="none" stroke="#231f20" stroke-width="0.92" />
<polyline points="561.9,626.7 566.1,627.5" fill="none" stroke="#231f20" stroke-width="0.92" />
<ellipse cx="564" cy="617" rx="5" ry="3.4" transform="rotate(0 564 617)" fill="#fff" stroke="#231f20" stroke-width="1.55"/>
<polyline points="559.2,617.3 568.8,617.3" fill="none" stroke="#231f20" stroke-width="0.69" />
<polyline points="564,631 564,659" fill="none" stroke="#231f20" stroke-width="0.92" />
<polygon points="892,479 898,482 898,515 892,512" fill="#b9b9b9" stroke="#231f20" stroke-width="1.38" stroke-linejoin="round" />
<polygon points="892,582 898,585 898,616 892,613" fill="#b9b9b9" stroke="#231f20" stroke-width="1.38" stroke-linejoin="round" />
<polygon points="494,691 501,694 501,724 494,721" fill="#b9b9b9" stroke="#231f20" stroke-width="1.38" stroke-linejoin="round" />
<polygon points="495.2,807 501.5,810.3 501.5,840.3 495.2,837" fill="#b9b9b9" stroke="#231f20" stroke-width="1.38" stroke-linejoin="round" />
<polyline points="892,498 864,516" fill="none" stroke="#231f20" stroke-width="0.92" />
<polyline points="892,601 866,618" fill="none" stroke="#231f20" stroke-width="0.92" />
<polyline points="501,706 529,692" fill="none" stroke="#231f20" stroke-width="0.92" />
<polyline points="501.5,821 529,806" fill="none" stroke="#231f20" stroke-width="0.92" />
<polygon points="527,671 836.7,493.4 847.4,497 857.3,500.6 859,503 863.5,526.5 866,560 862,608 865.3,621.4 863.5,650 854.6,652.8 847.4,648.3 550.7,818 549,827 540.5,828.6 526,818 525,814 532,813 531,682" fill="#fff" stroke="#231f20" stroke-width="2.18" stroke-linejoin="round" />
<polyline points="529,674.05 840,495.69" fill="none" stroke="#231f20" stroke-width="1.72" />
<polyline points="531,677.71 845,497.63" fill="none" stroke="#231f20" stroke-width="0.8" />
<polyline points="533,679.56 845,500.63" fill="none" stroke="#231f20" stroke-width="0.8" />
<polyline points="540,682.04 846,506.55" fill="none" stroke="#231f20" stroke-width="0.92" />
<polyline points="546,684.1 846,512.05" fill="none" stroke="#231f20" stroke-width="0.8" />
<path d="M845.6,498 C850,510 854,525 854.6,533.7 L854.6,612.5 C856,630 854,645 847.4,648.3" fill="none" stroke="#231f20" stroke-width="1.15" />
<path d="M851,500 C857,515 861,530 861,545 L859,610 C861,625 861,640 856,651" fill="none" stroke="#231f20" stroke-width="0.92" />
<polyline points="526.3,671 544,679" fill="none" stroke="#231f20" stroke-width="1.38" />
<path d="M544,679 C547,682 548,688 549,700 C556,740 556,780 550,818" fill="none" stroke="#231f20" stroke-width="1.49" />
<polyline points="534.3,679 535,815" fill="none" stroke="#231f20" stroke-width="0.8" />
<polygon points="702,582 713,575.5 719,579 708,585.5" fill="#fff" stroke="#231f20" stroke-width="1.15" stroke-linejoin="round" />
<polyline points="704,584 711,597" fill="none" stroke="#231f20" stroke-width="1.03" />
<polyline points="711,580 718,593" fill="none" stroke="#231f20" stroke-width="1.03" />
<polyline points="711,597 714,595" fill="none" stroke="#231f20" stroke-width="0.8" />
<polygon points="814,514 825,507.5 831,511 820,517.5" fill="#fff" stroke="#231f20" stroke-width="1.15" stroke-linejoin="round" />
<polyline points="816,516 823,529" fill="none" stroke="#231f20" stroke-width="1.03" />
<polyline points="823,512 830,525" fill="none" stroke="#231f20" stroke-width="1.03" />
<polyline points="823,529 826,527" fill="none" stroke="#231f20" stroke-width="0.8" />
<polygon points="544,667 553.35,661.48 558.45,664.45 549.1,669.98" fill="#fff" stroke="#231f20" stroke-width="1.15" stroke-linejoin="round" />
<polyline points="545.7,668.7 551.65,679.75" fill="none" stroke="#231f20" stroke-width="1.03" />
<polyline points="551.65,665.3 557.6,676.35" fill="none" stroke="#231f20" stroke-width="1.03" />
<polyline points="551.65,679.75 554.2,678.05" fill="none" stroke="#231f20" stroke-width="0.8" />
<polygon points="561,664 569,659 574,666 566,671" fill="#fff" stroke="#231f20" stroke-width="1.03" stroke-linejoin="round" />
<polyline points="563,666 567,672" fill="none" stroke="#231f20" stroke-width="0.92" />
<polyline points="569,661 573,668" fill="none" stroke="#231f20" stroke-width="0.92" />
<polygon points="591,639 606,630 610,633 595,642" fill="#fff" stroke="#231f20" stroke-width="1.03" stroke-linejoin="round" />
<polygon points="676,600 688,593 692,600 680,607" fill="#fff" stroke="#231f20" stroke-width="1.03" stroke-linejoin="round" />
<polygon points="755,540 775,529 779,533 759,544" fill="#fff" stroke="#231f20" stroke-width="1.03" stroke-linejoin="round" />
<polyline points="668,599 690,612" fill="none" stroke="#231f20" stroke-width="0.8" />
<polyline points="672,596 694,609" fill="none" stroke="#231f20" stroke-width="0.8" />
<polyline points="611.5,722 609.3,661 765.5,573 766,600" fill="none" stroke="#231f20" stroke-width="1.26" />
<polygon points="624,670 754.8,596.5 755,618 625,692" fill="#fff" stroke="#231f20" stroke-width="1.15" stroke-linejoin="round" />
<polyline points="627,671 627,690" fill="none" stroke="#231f20" stroke-width="0.69" />
<polyline points="752,600 756,605 756,618" fill="none" stroke="#231f20" stroke-width="0.69" />
<ellipse cx="621" cy="683" rx="3.5" ry="4" transform="rotate(0 621 683)" fill="none" stroke="#231f20" stroke-width="1.03"/>
<polygon points="614,695 620,692 620,704 614,707" fill="#fff" stroke="#231f20" stroke-width="0.92" stroke-linejoin="round" />
<polyline points="617,694 617,705" fill="none" stroke="#231f20" stroke-width="0.69" />
<ellipse cx="615" cy="666" rx="0.9" ry="0.9" transform="rotate(0 615 666)" fill="none" stroke="#231f20" stroke-width="1.61"/>
<ellipse cx="752" cy="584" rx="0.9" ry="0.9" transform="rotate(0 752 584)" fill="none" stroke="#231f20" stroke-width="1.61"/>
<ellipse cx="577" cy="680" rx="1.3" ry="1.6" transform="rotate(0 577 680)" fill="none" stroke="#231f20" stroke-width="0.92"/>
<ellipse cx="546" cy="710" rx="1.3" ry="1.6" transform="rotate(0 546 710)" fill="none" stroke="#231f20" stroke-width="0.92"/>
<ellipse cx="543" cy="742" rx="1.3" ry="1.6" transform="rotate(0 543 742)" fill="none" stroke="#231f20" stroke-width="0.92"/>
<ellipse cx="591" cy="703" rx="1.3" ry="1.6" transform="rotate(0 591 703)" fill="none" stroke="#231f20" stroke-width="0.92"/>
<ellipse cx="692" cy="639" rx="1.3" ry="1.6" transform="rotate(0 692 639)" fill="none" stroke="#231f20" stroke-width="0.92"/>
<ellipse cx="820" cy="544" rx="1.3" ry="1.6" transform="rotate(0 820 544)" fill="none" stroke="#231f20" stroke-width="0.92"/>
<ellipse cx="590" cy="783" rx="1.3" ry="1.6" transform="rotate(0 590 783)" fill="none" stroke="#231f20" stroke-width="0.92"/>
<ellipse cx="575" cy="811" rx="1.3" ry="1.6" transform="rotate(0 575 811)" fill="none" stroke="#231f20" stroke-width="0.92"/>
<ellipse cx="633" cy="738" rx="1.3" ry="1.6" transform="rotate(0 633 738)" fill="none" stroke="#231f20" stroke-width="0.92"/>
<ellipse cx="728" cy="695" rx="1.3" ry="1.6" transform="rotate(0 728 695)" fill="none" stroke="#231f20" stroke-width="0.92"/>
<ellipse cx="695" cy="704" rx="1.3" ry="1.6" transform="rotate(0 695 704)" fill="none" stroke="#231f20" stroke-width="0.92"/>
<ellipse cx="566" cy="697" rx="1.3" ry="1.6" transform="rotate(0 566 697)" fill="none" stroke="#231f20" stroke-width="0.92"/>
<ellipse cx="595" cy="772" rx="1.3" ry="1.6" transform="rotate(0 595 772)" fill="none" stroke="#231f20" stroke-width="0.92"/>
<ellipse cx="765" cy="656" rx="1.3" ry="1.6" transform="rotate(0 765 656)" fill="none" stroke="#231f20" stroke-width="0.92"/>
<polygon points="557,689 575,679 577,682 559,692" fill="#fff" stroke="#231f20" stroke-width="1.15" stroke-linejoin="round" />
<polyline points="598.4,741.5 598.4,762.5" fill="none" stroke="#231f20" stroke-width="1.15" />
<polyline points="600,741.5 600,761.5" fill="none" stroke="#231f20" stroke-width="0.69" />
<polyline points="598.4,740.5 613.6,731.71" fill="none" stroke="#231f20" stroke-width="1.03" />
<polygon points="601.9,744.5 609.4,740.16 609.4,742.37 601.9,746.7" fill="#999" stroke="#231f20" stroke-width="0.69" stroke-linejoin="round" />
<ellipse cx="606.8" cy="754" rx="4.7" ry="5.17" transform="rotate(-20 606.8 754)" fill="#fff" stroke="#231f20" stroke-width="1.49"/>
<ellipse cx="607.5" cy="754.3" rx="2.59" ry="3.06" transform="rotate(-20 607.5 754.3)" fill="none" stroke="#231f20" stroke-width="0.57"/>
<polyline points="613.6,732.7 613.6,753.7" fill="none" stroke="#231f20" stroke-width="1.15" />
<polyline points="615.2,732.7 615.2,752.7" fill="none" stroke="#231f20" stroke-width="0.69" />
<polyline points="613.6,731.7 628.8,722.91" fill="none" stroke="#231f20" stroke-width="1.03" />
<polygon points="617.1,735.7 624.6,731.37 624.6,733.57 617.1,737.9" fill="#999" stroke="#231f20" stroke-width="0.69" stroke-linejoin="round" />
<ellipse cx="622" cy="745.2" rx="4.7" ry="5.17" transform="rotate(-20 622 745.2)" fill="#fff" stroke="#231f20" stroke-width="1.49"/>
<ellipse cx="622.7" cy="745.5" rx="2.59" ry="3.06" transform="rotate(-20 622.7 745.5)" fill="none" stroke="#231f20" stroke-width="0.57"/>
<polyline points="628.8,723.9 628.8,744.9" fill="none" stroke="#231f20" stroke-width="1.15" />
<polyline points="630.4,723.9 630.4,743.9" fill="none" stroke="#231f20" stroke-width="0.69" />
<polyline points="628.8,722.9 644,714.11" fill="none" stroke="#231f20" stroke-width="1.03" />
<polygon points="632.3,726.9 639.8,722.56 639.8,724.76 632.3,729.1" fill="#999" stroke="#231f20" stroke-width="0.69" stroke-linejoin="round" />
<ellipse cx="637.2" cy="736.4" rx="4.7" ry="5.17" transform="rotate(-20 637.2 736.4)" fill="#fff" stroke="#231f20" stroke-width="1.49"/>
<ellipse cx="637.9" cy="736.7" rx="2.59" ry="3.06" transform="rotate(-20 637.9 736.7)" fill="none" stroke="#231f20" stroke-width="0.57"/>
<polyline points="644,715.1 644,736.1" fill="none" stroke="#231f20" stroke-width="1.15" />
<polyline points="645.6,715.1 645.6,735.1" fill="none" stroke="#231f20" stroke-width="0.69" />
<polyline points="644,714.1 659.2,705.31" fill="none" stroke="#231f20" stroke-width="1.03" />
<polygon points="647.5,718.1 655,713.76 655,715.97 647.5,720.3" fill="#999" stroke="#231f20" stroke-width="0.69" stroke-linejoin="round" />
<ellipse cx="652.4" cy="727.6" rx="4.7" ry="5.17" transform="rotate(-20 652.4 727.6)" fill="#fff" stroke="#231f20" stroke-width="1.49"/>
<ellipse cx="653.1" cy="727.9" rx="2.59" ry="3.06" transform="rotate(-20 653.1 727.9)" fill="none" stroke="#231f20" stroke-width="0.57"/>
<polyline points="659.2,706.3 659.2,727.3" fill="none" stroke="#231f20" stroke-width="1.15" />
<polyline points="660.8,706.3 660.8,726.3" fill="none" stroke="#231f20" stroke-width="0.69" />
<polyline points="659.2,705.3 674.4,696.51" fill="none" stroke="#231f20" stroke-width="1.03" />
<polygon points="662.7,709.3 670.2,704.96 670.2,707.16 662.7,711.5" fill="#999" stroke="#231f20" stroke-width="0.69" stroke-linejoin="round" />
<ellipse cx="667.6" cy="718.8" rx="4.7" ry="5.17" transform="rotate(-20 667.6 718.8)" fill="#fff" stroke="#231f20" stroke-width="1.49"/>
<ellipse cx="668.3" cy="719.1" rx="2.59" ry="3.06" transform="rotate(-20 668.3 719.1)" fill="none" stroke="#231f20" stroke-width="0.57"/>
<polyline points="674.4,697.5 674.4,718.5" fill="none" stroke="#231f20" stroke-width="1.15" />
<polyline points="676,697.5 676,717.5" fill="none" stroke="#231f20" stroke-width="0.69" />
<polyline points="674.4,696.5 689.6,687.71" fill="none" stroke="#231f20" stroke-width="1.03" />
<polygon points="677.9,700.5 685.4,696.16 685.4,698.37 677.9,702.7" fill="#999" stroke="#231f20" stroke-width="0.69" stroke-linejoin="round" />
<ellipse cx="682.8" cy="710" rx="4.7" ry="5.17" transform="rotate(-20 682.8 710)" fill="#fff" stroke="#231f20" stroke-width="1.49"/>
<ellipse cx="683.5" cy="710.3" rx="2.59" ry="3.06" transform="rotate(-20 683.5 710.3)" fill="none" stroke="#231f20" stroke-width="0.57"/>
<polyline points="689.6,688.7 689.6,709.7" fill="none" stroke="#231f20" stroke-width="1.15" />
<polyline points="691.2,688.7 691.2,708.7" fill="none" stroke="#231f20" stroke-width="0.69" />
<polyline points="689.6,687.7 704.8,678.91" fill="none" stroke="#231f20" stroke-width="1.03" />
<polygon points="693.1,691.7 700.6,687.37 700.6,689.57 693.1,693.9" fill="#999" stroke="#231f20" stroke-width="0.69" stroke-linejoin="round" />
<ellipse cx="698" cy="701.2" rx="4.7" ry="5.17" transform="rotate(-20 698 701.2)" fill="#fff" stroke="#231f20" stroke-width="1.49"/>
<ellipse cx="698.7" cy="701.5" rx="2.59" ry="3.06" transform="rotate(-20 698.7 701.5)" fill="none" stroke="#231f20" stroke-width="0.57"/>
<polyline points="704.8,679.9 704.8,700.9" fill="none" stroke="#231f20" stroke-width="1.15" />
<polyline points="706.4,679.9 706.4,699.9" fill="none" stroke="#231f20" stroke-width="0.69" />
<polyline points="704.8,678.9 720,670.11" fill="none" stroke="#231f20" stroke-width="1.03" />
<polygon points="708.3,682.9 715.8,678.56 715.8,680.76 708.3,685.1" fill="#999" stroke="#231f20" stroke-width="0.69" stroke-linejoin="round" />
<ellipse cx="713.2" cy="692.4" rx="4.7" ry="5.17" transform="rotate(-20 713.2 692.4)" fill="#fff" stroke="#231f20" stroke-width="1.49"/>
<ellipse cx="713.9" cy="692.7" rx="2.59" ry="3.06" transform="rotate(-20 713.9 692.7)" fill="none" stroke="#231f20" stroke-width="0.57"/>
<polyline points="720,671.1 720,692.1" fill="none" stroke="#231f20" stroke-width="1.15" />
<polyline points="721.6,671.1 721.6,691.1" fill="none" stroke="#231f20" stroke-width="0.69" />
<polyline points="720,670.1 735.2,661.31" fill="none" stroke="#231f20" stroke-width="1.03" />
<polygon points="723.5,674.1 731,669.76 731,671.97 723.5,676.3" fill="#999" stroke="#231f20" stroke-width="0.69" stroke-linejoin="round" />
<ellipse cx="728.4" cy="683.6" rx="4.7" ry="5.17" transform="rotate(-20 728.4 683.6)" fill="#fff" stroke="#231f20" stroke-width="1.49"/>
<ellipse cx="729.1" cy="683.9" rx="2.59" ry="3.06" transform="rotate(-20 729.1 683.9)" fill="none" stroke="#231f20" stroke-width="0.57"/>
<polyline points="735.2,662.3 735.2,683.3" fill="none" stroke="#231f20" stroke-width="1.15" />
<polyline points="736.8,662.3 736.8,682.3" fill="none" stroke="#231f20" stroke-width="0.69" />
<polyline points="735.2,661.3 750.4,652.51" fill="none" stroke="#231f20" stroke-width="1.03" />
<polygon points="738.7,665.3 746.2,660.96 746.2,663.16 738.7,667.5" fill="#999" stroke="#231f20" stroke-width="0.69" stroke-linejoin="round" />
<ellipse cx="743.6" cy="674.8" rx="4.7" ry="5.17" transform="rotate(-20 743.6 674.8)" fill="#fff" stroke="#231f20" stroke-width="1.49"/>
<ellipse cx="744.3" cy="675.1" rx="2.59" ry="3.06" transform="rotate(-20 744.3 675.1)" fill="none" stroke="#231f20" stroke-width="0.57"/>
<polyline points="750.4,653.5 750.4,674.5" fill="none" stroke="#231f20" stroke-width="1.15" />
<polyline points="752,653.5 752,673.5" fill="none" stroke="#231f20" stroke-width="0.69" />
<polyline points="750.4,652.5 765.6,643.71" fill="none" stroke="#231f20" stroke-width="1.03" />
<polygon points="753.9,656.5 761.4,652.16 761.4,654.37 753.9,658.7" fill="#999" stroke="#231f20" stroke-width="0.69" stroke-linejoin="round" />
<ellipse cx="758.8" cy="666" rx="4.7" ry="5.17" transform="rotate(-20 758.8 666)" fill="#fff" stroke="#231f20" stroke-width="1.49"/>
<ellipse cx="759.5" cy="666.3" rx="2.59" ry="3.06" transform="rotate(-20 759.5 666.3)" fill="none" stroke="#231f20" stroke-width="0.57"/>
<polyline points="765.6,644.7 765.6,665.7" fill="none" stroke="#231f20" stroke-width="1.15" />
<polyline points="767.2,644.7 767.2,664.7" fill="none" stroke="#231f20" stroke-width="0.69" />
<polyline points="765.6,643.7 780.8,634.91" fill="none" stroke="#231f20" stroke-width="1.03" />
<polygon points="769.1,647.7 776.6,643.37 776.6,645.57 769.1,649.9" fill="#999" stroke="#231f20" stroke-width="0.69" stroke-linejoin="round" />
<ellipse cx="774" cy="657.2" rx="4.7" ry="5.17" transform="rotate(-20 774 657.2)" fill="#fff" stroke="#231f20" stroke-width="1.49"/>
<ellipse cx="774.7" cy="657.5" rx="2.59" ry="3.06" transform="rotate(-20 774.7 657.5)" fill="none" stroke="#231f20" stroke-width="0.57"/>
<polyline points="780.8,635.9 780.8,656.9" fill="none" stroke="#231f20" stroke-width="1.15" />
<polyline points="782.4,635.9 782.4,655.9" fill="none" stroke="#231f20" stroke-width="0.69" />
<polyline points="780.8,634.9 796,626.11" fill="none" stroke="#231f20" stroke-width="1.03" />
<polygon points="784.3,638.9 791.8,634.56 791.8,636.76 784.3,641.1" fill="#999" stroke="#231f20" stroke-width="0.69" stroke-linejoin="round" />
<ellipse cx="789.2" cy="648.4" rx="4.7" ry="5.17" transform="rotate(-20 789.2 648.4)" fill="#fff" stroke="#231f20" stroke-width="1.49"/>
<ellipse cx="789.9" cy="648.7" rx="2.59" ry="3.06" transform="rotate(-20 789.9 648.7)" fill="none" stroke="#231f20" stroke-width="0.57"/>
<polyline points="598.5,760 796,646" fill="none" stroke="#231f20" stroke-width="0.92" />
<polyline points="611.1,705.5 611.1,724.5" fill="none" stroke="#231f20" stroke-width="1.15" />
<polyline points="612.7,705.5 612.7,723.5" fill="none" stroke="#231f20" stroke-width="0.69" />
<polyline points="611.1,704.5 622.3,698.03" fill="none" stroke="#231f20" stroke-width="1.03" />
<polygon points="614.6,708.5 622.1,704.16 622.1,706.37 614.6,710.7" fill="#999" stroke="#231f20" stroke-width="0.69" stroke-linejoin="round" />
<ellipse cx="619.5" cy="718" rx="3.7" ry="4.07" transform="rotate(-20 619.5 718)" fill="#fff" stroke="#231f20" stroke-width="1.49"/>
<ellipse cx="620.2" cy="718.3" rx="2.04" ry="2.41" transform="rotate(-20 620.2 718.3)" fill="none" stroke="#231f20" stroke-width="0.57"/>
<polyline points="622.3,699.2 622.3,718.2" fill="none" stroke="#231f20" stroke-width="1.15" />
<polyline points="623.9,699.2 623.9,717.2" fill="none" stroke="#231f20" stroke-width="0.69" />
<polyline points="622.3,698.2 633.5,691.73" fill="none" stroke="#231f20" stroke-width="1.03" />
<polygon points="625.8,702.2 633.3,697.87 633.3,700.07 625.8,704.4" fill="#999" stroke="#231f20" stroke-width="0.69" stroke-linejoin="round" />
<ellipse cx="630.7" cy="711.7" rx="3.7" ry="4.07" transform="rotate(-20 630.7 711.7)" fill="#fff" stroke="#231f20" stroke-width="1.49"/>
<ellipse cx="631.4" cy="712" rx="2.04" ry="2.41" transform="rotate(-20 631.4 712)" fill="none" stroke="#231f20" stroke-width="0.57"/>
<polyline points="633.5,692.9 633.5,711.9" fill="none" stroke="#231f20" stroke-width="1.15" />
<polyline points="635.1,692.9 635.1,710.9" fill="none" stroke="#231f20" stroke-width="0.69" />
<polyline points="633.5,691.9 644.7,685.43" fill="none" stroke="#231f20" stroke-width="1.03" />
<polygon points="637,695.9 644.5,691.56 644.5,693.76 637,698.1" fill="#999" stroke="#231f20" stroke-width="0.69" stroke-linejoin="round" />
<ellipse cx="641.9" cy="705.4" rx="3.7" ry="4.07" transform="rotate(-20 641.9 705.4)" fill="#fff" stroke="#231f20" stroke-width="1.49"/>
<ellipse cx="642.6" cy="705.7" rx="2.04" ry="2.41" transform="rotate(-20 642.6 705.7)" fill="none" stroke="#231f20" stroke-width="0.57"/>
<polyline points="644.7,686.6 644.7,705.6" fill="none" stroke="#231f20" stroke-width="1.15" />
<polyline points="646.3,686.6 646.3,704.6" fill="none" stroke="#231f20" stroke-width="0.69" />
<polyline points="644.7,685.6 655.9,679.13" fill="none" stroke="#231f20" stroke-width="1.03" />
<polygon points="648.2,689.6 655.7,685.26 655.7,687.47 648.2,691.8" fill="#999" stroke="#231f20" stroke-width="0.69" stroke-linejoin="round" />
<ellipse cx="653.1" cy="699.1" rx="3.7" ry="4.07" transform="rotate(-20 653.1 699.1)" fill="#fff" stroke="#231f20" stroke-width="1.49"/>
<ellipse cx="653.8" cy="699.4" rx="2.04" ry="2.41" transform="rotate(-20 653.8 699.4)" fill="none" stroke="#231f20" stroke-width="0.57"/>
<polyline points="655.9,680.3 655.9,699.3" fill="none" stroke="#231f20" stroke-width="1.15" />
<polyline points="657.5,680.3 657.5,698.3" fill="none" stroke="#231f20" stroke-width="0.69" />
<polyline points="655.9,679.3 667.1,672.83" fill="none" stroke="#231f20" stroke-width="1.03" />
<polygon points="659.4,683.3 666.9,678.96 666.9,681.16 659.4,685.5" fill="#999" stroke="#231f20" stroke-width="0.69" stroke-linejoin="round" />
<ellipse cx="664.3" cy="692.8" rx="3.7" ry="4.07" transform="rotate(-20 664.3 692.8)" fill="#fff" stroke="#231f20" stroke-width="1.49"/>
<ellipse cx="665" cy="693.1" rx="2.04" ry="2.41" transform="rotate(-20 665 693.1)" fill="none" stroke="#231f20" stroke-width="0.57"/>
<polygon points="671,672 684,664.49 684,684.49 671,692" fill="none" stroke="#231f20" stroke-width="0.92" stroke-linejoin="round" />
<polyline points="672,675 683,668.64" fill="none" stroke="#231f20" stroke-width="0.57" />
<polyline points="672,678.5 683,672.14" fill="none" stroke="#231f20" stroke-width="0.57" />
<polyline points="672,682 683,675.64" fill="none" stroke="#231f20" stroke-width="0.57" />
<polyline points="672,685.5 683,679.14" fill="none" stroke="#231f20" stroke-width="0.57" />
<polyline points="675,671 677,681 680,687" fill="none" stroke="#231f20" stroke-width="1.49" />
<polygon points="684,664.5 697,656.99 697,676.99 684,684.5" fill="none" stroke="#231f20" stroke-width="0.92" stroke-linejoin="round" />
<polyline points="685,667.5 696,661.14" fill="none" stroke="#231f20" stroke-width="0.57" />
<polyline points="685,671 696,664.64" fill="none" stroke="#231f20" stroke-width="0.57" />
<polyline points="685,674.5 696,668.14" fill="none" stroke="#231f20" stroke-width="0.57" />
<polyline points="685,678 696,671.64" fill="none" stroke="#231f20" stroke-width="0.57" />
<polyline points="688,663.5 690,673.5 693,679.5" fill="none" stroke="#231f20" stroke-width="1.49" />
<polygon points="711,649 724,641.49 724,661.49 711,669" fill="none" stroke="#231f20" stroke-width="0.92" stroke-linejoin="round" />
<polyline points="712,652 723,645.64" fill="none" stroke="#231f20" stroke-width="0.57" />
<polyline points="712,655.5 723,649.14" fill="none" stroke="#231f20" stroke-width="0.57" />
<polyline points="712,659 723,652.64" fill="none" stroke="#231f20" stroke-width="0.57" />
<polyline points="712,662.5 723,656.14" fill="none" stroke="#231f20" stroke-width="0.57" />
<polyline points="715,648 717,658 720,664" fill="none" stroke="#231f20" stroke-width="1.49" />
<polygon points="724,641.5 737,633.99 737,653.99 724,661.5" fill="none" stroke="#231f20" stroke-width="0.92" stroke-linejoin="round" />
<polyline points="725,644.5 736,638.14" fill="none" stroke="#231f20" stroke-width="0.57" />
<polyline points="725,648 736,641.64" fill="none" stroke="#231f20" stroke-width="0.57" />
<polyline points="725,651.5 736,645.14" fill="none" stroke="#231f20" stroke-width="0.57" />
<polyline points="725,655 736,648.64" fill="none" stroke="#231f20" stroke-width="0.57" />
<polyline points="728,640.5 730,650.5 733,656.5" fill="none" stroke="#231f20" stroke-width="1.49" />
<path d="M697,651 C695,647 699,643 702,645 L706,649" fill="none" stroke="#231f20" stroke-width="1.15" />
<polyline points="750.4,626.4 750.4,645.4" fill="none" stroke="#231f20" stroke-width="1.15" />
<polyline points="752,626.4 752,644.4" fill="none" stroke="#231f20" stroke-width="0.69" />
<polyline points="750.4,625.4 764.4,617.31" fill="none" stroke="#231f20" stroke-width="1.03" />
<polygon points="753.9,629.4 761.4,625.06 761.4,627.26 753.9,631.6" fill="#999" stroke="#231f20" stroke-width="0.69" stroke-linejoin="round" />
<ellipse cx="758.8" cy="638.9" rx="3.8" ry="4.18" transform="rotate(-20 758.8 638.9)" fill="#fff" stroke="#231f20" stroke-width="1.49"/>
<ellipse cx="759.5" cy="639.2" rx="2.09" ry="2.47" transform="rotate(-20 759.5 639.2)" fill="none" stroke="#231f20" stroke-width="0.57"/>
<polyline points="766.4,617 766.4,636" fill="none" stroke="#231f20" stroke-width="1.15" />
<polyline points="768,617 768,635" fill="none" stroke="#231f20" stroke-width="0.69" />
<polyline points="766.4,616 780.4,607.91" fill="none" stroke="#231f20" stroke-width="1.03" />
<polygon points="769.9,620 777.4,615.66 777.4,617.87 769.9,622.2" fill="#999" stroke="#231f20" stroke-width="0.69" stroke-linejoin="round" />
<ellipse cx="774.8" cy="629.5" rx="3.8" ry="4.18" transform="rotate(-20 774.8 629.5)" fill="#fff" stroke="#231f20" stroke-width="1.49"/>
<ellipse cx="775.5" cy="629.8" rx="2.09" ry="2.47" transform="rotate(-20 775.5 629.8)" fill="none" stroke="#231f20" stroke-width="0.57"/>
<polyline points="780.9,609 780.9,628" fill="none" stroke="#231f20" stroke-width="1.15" />
<polyline points="782.5,609 782.5,627" fill="none" stroke="#231f20" stroke-width="0.69" />
<polyline points="780.9,608 794.9,599.91" fill="none" stroke="#231f20" stroke-width="1.03" />
<polygon points="784.4,612 791.9,607.66 791.9,609.87 784.4,614.2" fill="#999" stroke="#231f20" stroke-width="0.69" stroke-linejoin="round" />
<ellipse cx="789.3" cy="621.5" rx="3.8" ry="4.18" transform="rotate(-20 789.3 621.5)" fill="#fff" stroke="#231f20" stroke-width="1.49"/>
<ellipse cx="790" cy="621.8" rx="2.09" ry="2.47" transform="rotate(-20 790 621.8)" fill="none" stroke="#231f20" stroke-width="0.57"/>
<polygon points="762,578 793,561 794,604 763,621" fill="none" stroke="#231f20" stroke-width="0.92" stroke-linejoin="round" />
<polyline points="769,580 769,622" fill="none" stroke="#231f20" stroke-width="1.03" />
<polyline points="787,568 787,610" fill="none" stroke="#231f20" stroke-width="1.03" />
<polyline points="766,586 772,583" fill="none" stroke="#231f20" stroke-width="0.8" />
<polyline points="766,610 772,607" fill="none" stroke="#231f20" stroke-width="0.8" />
<polyline points="784,574 790,571" fill="none" stroke="#231f20" stroke-width="0.8" />
<polyline points="784,598 790,595" fill="none" stroke="#231f20" stroke-width="0.8" />
<path d="M774,592 L784,588 C790,587 791,599 786,602 L777,606 C771,608 769,595 774,592 Z" fill="#fff" stroke="#231f20" stroke-width="1.38" />
<ellipse cx="786" cy="595" rx="3.5" ry="5.5" transform="rotate(-20 786 595)" fill="#fff" stroke="#231f20" stroke-width="1.26"/>
<polygon points="797.3,562.3 847.4,534.6 848.3,592.8 798,619.6" fill="none" stroke="#231f20" stroke-width="1.03" stroke-linejoin="round" />
<polyline points="800,562 800,617" fill="none" stroke="#231f20" stroke-width="0.69" />
<ellipse cx="822.3" cy="580.2" rx="21.5" ry="29.5" transform="rotate(22 822.3 580.2)" fill="none" stroke="#231f20" stroke-width="1.15"/>
<ellipse cx="825" cy="580" rx="17.5" ry="25" transform="rotate(22 825 580)" fill="none" stroke="#231f20" stroke-width="0.8"/>
<ellipse cx="827.5" cy="580" rx="14" ry="20.5" transform="rotate(22 827.5 580)" fill="none" stroke="#231f20" stroke-width="0.69"/>
<ellipse cx="813.4" cy="573" rx="6.3" ry="8" transform="rotate(22 813.4 573)" fill="none" stroke="#231f20" stroke-width="1.26"/>
<ellipse cx="813.4" cy="573" rx="3" ry="3.8" transform="rotate(22 813.4 573)" fill="none" stroke="#231f20" stroke-width="1.03"/>
<ellipse cx="824" cy="558" rx="0.9" ry="0.9" transform="rotate(0 824 558)" fill="none" stroke="#231f20" stroke-width="1.49"/>
<ellipse cx="806" cy="588" rx="0.9" ry="0.9" transform="rotate(0 806 588)" fill="none" stroke="#231f20" stroke-width="1.49"/>
<path d="M815,640 L850,620 C858,616 861,630 855,636 L818,657 C812,660 809,645 815,640 Z" fill="none" stroke="#231f20" stroke-width="1.15" />
<ellipse cx="824" cy="644" rx="3.2" ry="4.2" transform="rotate(-20 824 644)" fill="none" stroke="#231f20" stroke-width="1.15"/>
<ellipse cx="834" cy="638" rx="3.2" ry="4.2" transform="rotate(-20 834 638)" fill="none" stroke="#231f20" stroke-width="1.15"/>
<ellipse cx="845" cy="632" rx="3.2" ry="4.2" transform="rotate(-20 845 632)" fill="none" stroke="#231f20" stroke-width="1.15"/>
<polygon points="832,628 846,620 847,627 833,635" fill="#fff" stroke="#231f20" stroke-width="0.8" stroke-linejoin="round" />
<polygon points="790,666 806,657 808,664 792,673" fill="#fff" stroke="#231f20" stroke-width="1.15" stroke-linejoin="round" />
<polygon points="793,665 804,659 805,662 794,668" fill="#fff" stroke="#231f20" stroke-width="0.69" stroke-linejoin="round" />
<polygon points="776,679 790,671 791,680 777,688" fill="#fff" stroke="#231f20" stroke-width="1.15" stroke-linejoin="round" />
<polygon points="779,678 788,673 788,679 779,684" fill="#fff" stroke="#231f20" stroke-width="0.69" stroke-linejoin="round" />
<polygon points="770,668 852,621 854,652 772,700" fill="none" stroke="#231f20" stroke-width="0.92" stroke-linejoin="round" />
<polygon points="556,728 580,714 581,770 557,784" fill="none" stroke="#231f20" stroke-width="0.92" stroke-linejoin="round" />
<ellipse cx="567.4" cy="716.5" rx="7" ry="8" transform="rotate(-20 567.4 716.5)" fill="#fff" stroke="#231f20" stroke-width="1.38"/>
<ellipse cx="570" cy="717" rx="4.5" ry="5.5" transform="rotate(-20 570 717)" fill="none" stroke="#231f20" stroke-width="1.38"/>
<ellipse cx="571" cy="717" rx="2.5" ry="3" transform="rotate(-20 571 717)" fill="none" stroke="#231f20" stroke-width="1.15"/>
<ellipse cx="584" cy="698" rx="4" ry="3.4" transform="rotate(-20 584 698)" fill="none" stroke="#231f20" stroke-width="1.26"/>
<ellipse cx="585" cy="699" rx="2" ry="1.7" transform="rotate(-20 585 699)" fill="none" stroke="#231f20" stroke-width="0.8"/>
<ellipse cx="584" cy="705" rx="4" ry="3.4" transform="rotate(-20 584 705)" fill="none" stroke="#231f20" stroke-width="1.26"/>
<ellipse cx="585" cy="706" rx="2" ry="1.7" transform="rotate(-20 585 706)" fill="none" stroke="#231f20" stroke-width="0.8"/>
<ellipse cx="584" cy="712" rx="4" ry="3.4" transform="rotate(-20 584 712)" fill="none" stroke="#231f20" stroke-width="1.26"/>
<ellipse cx="585" cy="713" rx="2" ry="1.7" transform="rotate(-20 585 713)" fill="none" stroke="#231f20" stroke-width="0.8"/>
<ellipse cx="584" cy="719" rx="4" ry="3.4" transform="rotate(-20 584 719)" fill="none" stroke="#231f20" stroke-width="1.26"/>
<ellipse cx="585" cy="720" rx="2" ry="1.7" transform="rotate(-20 585 720)" fill="none" stroke="#231f20" stroke-width="0.8"/>
<polygon points="560,734 569,729 577,733 577,737 568,742 560,738" fill="#fff" stroke="#231f20" stroke-width="1.03" stroke-linejoin="round" />
<polyline points="569,729 569,742" fill="none" stroke="#231f20" stroke-width="0.69" />
<polygon points="560,743 569,738 577,742 577,746 568,751 560,747" fill="#fff" stroke="#231f20" stroke-width="1.03" stroke-linejoin="round" />
<polyline points="569,738 569,751" fill="none" stroke="#231f20" stroke-width="0.69" />
<polygon points="560,752 569,747 577,751 577,755 568,760 560,756" fill="#fff" stroke="#231f20" stroke-width="1.03" stroke-linejoin="round" />
<polyline points="569,747 569,760" fill="none" stroke="#231f20" stroke-width="0.69" />
<polygon points="560,761 569,756 577,760 577,764 568,769 560,765" fill="#fff" stroke="#231f20" stroke-width="1.03" stroke-linejoin="round" />
<polyline points="569,756 569,769" fill="none" stroke="#231f20" stroke-width="0.69" />
<polygon points="560,770 569,765 577,769 577,773 568,778 560,774" fill="#fff" stroke="#231f20" stroke-width="1.03" stroke-linejoin="round" />
<polyline points="569,765 569,778" fill="none" stroke="#231f20" stroke-width="0.69" />
<polygon points="559,778 597,760 600.5,787 561.7,808" fill="none" stroke="#231f20" stroke-width="1.15" stroke-linejoin="round" />
<ellipse cx="572" cy="789" rx="7" ry="8" transform="rotate(-20 572 789)" fill="none" stroke="#231f20" stroke-width="1.38"/>
<ellipse cx="572" cy="789" rx="4.5" ry="5.5" transform="rotate(-20 572 789)" fill="none" stroke="#231f20" stroke-width="1.03"/>
<ellipse cx="592.5" cy="777" rx="5.5" ry="6.5" transform="rotate(-20 592.5 777)" fill="none" stroke="#231f20" stroke-width="1.15"/>
<polyline points="577,785 588,780" fill="none" stroke="#231f20" stroke-width="0.8" />
<ellipse cx="671.5" cy="776" rx="9.8" ry="10.8" transform="rotate(20 671.5 776)" fill="#fff" stroke="#231f20" stroke-width="1.84"/>
<ellipse cx="675.4" cy="778.2" rx="8.2" ry="9.4" transform="rotate(20 675.4 778.2)" fill="#fff" stroke="#231f20" stroke-width="1.38"/>
<ellipse cx="675.9" cy="778.5" rx="7.2" ry="8.4" transform="rotate(20 675.9 778.5)" fill="none" stroke="#231f20" stroke-width="0.57"/>
<polyline points="571,716 662,775" fill="none" stroke="#231f20" stroke-width="0.92" stroke-dasharray="26 3 2 3"/>
<polyline points="816,614 940,548 945.8,545.2 962.4,555.5" fill="none" stroke="#231f20" stroke-width="0.92" stroke-dasharray="26 3 2 3"/>
<ellipse cx="972.2" cy="560.4" rx="11.6" ry="15" transform="rotate(25 972.2 560.4)" fill="#fff" stroke="#231f20" stroke-width="1.61"/>
<ellipse cx="971.5" cy="560.4" rx="4.5" ry="6.5" transform="rotate(25 971.5 560.4)" fill="none" stroke="#231f20" stroke-width="0.8"/>
<polyline points="982.71,565.3 980.61,564.32" fill="none" stroke="#231f20" stroke-width="1.26" />
<polyline points="975.15,573.48 974.56,570.86" fill="none" stroke="#231f20" stroke-width="1.26" />
<polyline points="965.86,573.99 967.13,571.28" fill="none" stroke="#231f20" stroke-width="1.26" />
<polyline points="960.28,566.55 962.67,565.32" fill="none" stroke="#231f20" stroke-width="1.26" />
<polyline points="961.69,555.5 963.79,556.48" fill="none" stroke="#231f20" stroke-width="1.26" />
<polyline points="969.25,547.32 969.84,549.94" fill="none" stroke="#231f20" stroke-width="1.26" />
<polyline points="978.54,546.81 977.27,549.52" fill="none" stroke="#231f20" stroke-width="1.26" />
<polyline points="984.12,554.25 981.73,555.48" fill="none" stroke="#231f20" stroke-width="1.26" />
<polyline points="972,561 984,568" fill="none" stroke="#231f20" stroke-width="0.8" />
<polygon points="983,567.6 985.7,564.5 1014.3,548.8 1016.5,549.2 1018.8,555 1018.8,583.7 1017,586.4 984.8,603.9 983,602.5" fill="#fff" stroke="#231f20" stroke-width="2.07" stroke-linejoin="round" />
<polygon points="986.5,568 1014,553 1016,584 986.5,600" fill="#fff" stroke="#231f20" stroke-width="1.03" stroke-linejoin="round" />
<polygon points="988,569 1013,555.5 1014.5,582.5 988,598" fill="#fff" stroke="#231f20" stroke-width="0.69" stroke-linejoin="round" />
<ellipse cx="1002" cy="577" rx="12" ry="15.5" transform="rotate(20 1002 577)" fill="none" stroke="#231f20" stroke-width="1.03"/>
<ellipse cx="1003" cy="578" rx="10" ry="13" transform="rotate(20 1003 578)" fill="none" stroke="#231f20" stroke-width="0.8"/>
<ellipse cx="1004.5" cy="579" rx="8" ry="10.5" transform="rotate(20 1004.5 579)" fill="none" stroke="#231f20" stroke-width="1.03"/>
<ellipse cx="1005.5" cy="580" rx="4.2" ry="6" transform="rotate(20 1005.5 580)" fill="none" stroke="#231f20" stroke-width="1.38"/>
<ellipse cx="1006" cy="580" rx="2.5" ry="3.8" transform="rotate(20 1006 580)" fill="none" stroke="#231f20" stroke-width="0.69"/>
<ellipse cx="989" cy="572" rx="1" ry="1" transform="rotate(0 989 572)" fill="none" stroke="#231f20" stroke-width="0.92"/>
<ellipse cx="1012" cy="558" rx="1" ry="1" transform="rotate(0 1012 558)" fill="none" stroke="#231f20" stroke-width="0.92"/>
<ellipse cx="990" cy="596" rx="1" ry="1" transform="rotate(0 990 596)" fill="none" stroke="#231f20" stroke-width="0.92"/>
<ellipse cx="1013" cy="583" rx="1" ry="1" transform="rotate(0 1013 583)" fill="none" stroke="#231f20" stroke-width="0.92"/>
<polyline points="990,602.5 1007,612.4" fill="none" stroke="#231f20" stroke-width="0.8" />
<polygon points="1006,614 1011,610.5 1015,613 1016,618 1011,621 1008,619" fill="#fff" stroke="#231f20" stroke-width="1.26" stroke-linejoin="round" />
<polyline points="1009,612 1012,619" fill="none" stroke="#231f20" stroke-width="0.69" />
<path d="M1013,612 L1019,613 C1024,614 1026,622 1021,625 L1015,622 Z" fill="#fff" stroke="#231f20" stroke-width="1.49" />
<ellipse cx="1020.5" cy="619.5" rx="3.6" ry="5" transform="rotate(-30 1020.5 619.5)" fill="#fff" stroke="#231f20" stroke-width="1.38"/>
<ellipse cx="1021" cy="619.5" rx="1.6" ry="2.4" transform="rotate(-30 1021 619.5)" fill="none" stroke="#231f20" stroke-width="0.69"/>
<polyline points="814,574 970,663 1026,696" fill="none" stroke="#231f20" stroke-width="0.92" stroke-dasharray="26 3 2 3"/>
<polygon points="741.6,739.6 862,671.6 867,674 867.6,703 743,772 741.6,770" fill="#fff" stroke="#231f20" stroke-width="1.72" stroke-linejoin="round" />
<polyline points="745,742 866,674" fill="none" stroke="#231f20" stroke-width="0.8" />
<polyline points="745,742 745,771" fill="none" stroke="#231f20" stroke-width="0.8" />
<polyline points="747,745 865,678" fill="none" stroke="#231f20" stroke-width="0.69" />
<polygon points="785.7,764 914.2,690 919.2,692.5 920.5,727.6 792,802.9 785.7,802.2" fill="#fff" stroke="#231f20" stroke-width="1.84" stroke-linejoin="round" />
<polygon points="791,767 914,697 915.5,726 793,797" fill="#fff" stroke="#231f20" stroke-width="0.92" stroke-linejoin="round" />
<polyline points="787,766 791,767" fill="none" stroke="#231f20" stroke-width="0.69" />
<polyline points="914.2,690 914,697" fill="none" stroke="#231f20" stroke-width="0.69" />
<polygon points="807.6,764 910.4,704.4 911,726.4 808.2,784" fill="#fff" stroke="#231f20" stroke-width="1.26" stroke-linejoin="round" />
<polygon points="809.5,766.5 908.5,708 909,724 810,781" fill="#fff" stroke="#231f20" stroke-width="0.69" stroke-linejoin="round" />
<ellipse cx="800" cy="772.8" rx="4.2" ry="5.4" transform="rotate(25 800 772.8)" fill="none" stroke="#231f20" stroke-width="1.26"/>
<ellipse cx="800.5" cy="773" rx="2.4" ry="3" transform="rotate(25 800.5 773)" fill="none" stroke="#231f20" stroke-width="0.69"/>
<ellipse cx="800" cy="786" rx="4.2" ry="5.4" transform="rotate(25 800 786)" fill="none" stroke="#231f20" stroke-width="1.26"/>
<ellipse cx="800.5" cy="786" rx="2.4" ry="3" transform="rotate(25 800.5 786)" fill="none" stroke="#231f20" stroke-width="0.69"/>
<polyline points="793,794.5 915.5,723" fill="none" stroke="#231f20" stroke-width="0.69" />
<polyline points="793,791.5 915,720" fill="none" stroke="#231f20" stroke-width="0.69" />
<polyline points="789,770 789,800" fill="none" stroke="#231f20" stroke-width="0.8" />
<polyline points="916.5,696 917.5,726" fill="none" stroke="#231f20" stroke-width="0.8" />
<polygon points="839,794 966,722.4 971,725 971,755 840,829 839,827" fill="#fff" stroke="#231f20" stroke-width="1.72" stroke-linejoin="round" />
<polyline points="842,796 969,724" fill="none" stroke="#231f20" stroke-width="0.8" />
<polyline points="842,796 842,828" fill="none" stroke="#231f20" stroke-width="0.8" />
<polyline points="843,799 968,728" fill="none" stroke="#231f20" stroke-width="0.69" />
<polyline points="699,649 792,706" fill="none" stroke="#231f20" stroke-width="0.92" />
<polyline points="814,720 836,732" fill="none" stroke="#231f20" stroke-width="0.92" />
<polyline points="856,744 890,763" fill="none" stroke="#231f20" stroke-width="0.92" />
<polyline points="910,630 1009,685" fill="none" stroke="#231f20" stroke-width="0.92" stroke-dasharray="26 3 2 3"/>
<polyline points="910,630 862,603" fill="none" stroke="#231f20" stroke-width="0.92" />
<path d="M1030,700 C1033,690 1045,680 1058,678 L1068,682" fill="none" stroke="#231f20" stroke-width="1.15" />
<path d="M1026,715 C1022,718 1022,725 1026,728" fill="none" stroke="#231f20" stroke-width="1.03" />
<polygon points="1027.7,696.7 1083,665.6 1085.2,667.2 1083.6,690.8 1081.4,729.5 1029.9,759 1024,754.7" fill="#fff" stroke="#231f20" stroke-width="1.95" stroke-linejoin="round" />
<polyline points="1028.5,699 1084.5,668.5" fill="none" stroke="#231f20" stroke-width="0.92" />
<ellipse cx="1055" cy="714.4" rx="24" ry="32" transform="rotate(28 1055 714.4)" fill="none" stroke="#231f20" stroke-width="1.49"/>
<ellipse cx="1057" cy="712" rx="19" ry="28" transform="rotate(28 1057 712)" fill="none" stroke="#231f20" stroke-width="0.92"/>
<ellipse cx="1053" cy="711" rx="16" ry="24" transform="rotate(28 1053 711)" fill="none" stroke="#231f20" stroke-width="0.92"/>
<ellipse cx="1049" cy="709" rx="13" ry="20" transform="rotate(28 1049 709)" fill="none" stroke="#231f20" stroke-width="0.92"/>
<ellipse cx="1045.4" cy="708" rx="10" ry="15" transform="rotate(28 1045.4 708)" fill="none" stroke="#231f20" stroke-width="1.26"/>
<ellipse cx="1046" cy="708.5" rx="9" ry="14" transform="rotate(28 1046 708.5)" fill="none" stroke="#231f20" stroke-width="0.69"/>
<polyline points="1044,704 1099,737" fill="none" stroke="#231f20" stroke-width="0.92" stroke-dasharray="26 3 2 3"/>
<path d="M873.6,871 L1187,691 L1200.6,695.7 L1205.4,698 L1209,715 L1211.5,726 C1208,760 1208,790 1212.7,823 L1201,851 L881,1032 C886,1000 882,975 883,960 C885,930 886,900 880,876 Z" fill="#fff" stroke="#231f20" stroke-width="2.07" />
<polyline points="873.6,871 880,875" fill="none" stroke="#231f20" stroke-width="1.49" />
<polyline points="879.7,876 1208,700.6" fill="none" stroke="#231f20" stroke-width="0.92" />
<polyline points="881,890.7 1211.5,727" fill="none" stroke="#231f20" stroke-width="1.15" />
<polyline points="887,1004 1211,820.5" fill="none" stroke="#231f20" stroke-width="0.92" />
<path d="M884,1001 L863,1007 L857,1011 L859,1016 L881,1030" fill="none" stroke="#231f20" stroke-width="1.49" />
<ellipse cx="866" cy="1009" rx="1.5" ry="1.2" transform="rotate(0 866 1009)" fill="none" stroke="#231f20" stroke-width="0.69"/>
<ellipse cx="874" cy="1014" rx="1.5" ry="1.2" transform="rotate(0 874 1014)" fill="none" stroke="#231f20" stroke-width="0.69"/>
<polygon points="956,871 1106,783 1105,823 954.8,906.5" fill="#fff" stroke="#231f20" stroke-width="1.15" stroke-linejoin="round" />
<polyline points="958,904 1103,821" fill="none" stroke="#231f20" stroke-width="0.8" />
<ellipse cx="1168" cy="775.7" rx="23" ry="30" transform="rotate(25 1168 775.7)" fill="none" stroke="#231f20" stroke-width="1.03"/>
<ellipse cx="1168.5" cy="775.7" rx="21.8" ry="28.8" transform="rotate(25 1168.5 775.7)" fill="none" stroke="#231f20" stroke-width="0.69"/>
<ellipse cx="1125.5" cy="794" rx="12" ry="15" transform="rotate(25 1125.5 794)" fill="none" stroke="#231f20" stroke-width="1.15"/>
<ellipse cx="1126" cy="794" rx="11" ry="14" transform="rotate(25 1126 794)" fill="none" stroke="#231f20" stroke-width="0.57"/>
<ellipse cx="1131.6" cy="817.6" rx="2.5" ry="3.2" transform="rotate(25 1131.6 817.6)" fill="none" stroke="#231f20" stroke-width="1.03"/>
<ellipse cx="1117" cy="825" rx="2.5" ry="3.2" transform="rotate(25 1117 825)" fill="none" stroke="#231f20" stroke-width="1.03"/>
<ellipse cx="1101" cy="835" rx="2.5" ry="3.2" transform="rotate(25 1101 835)" fill="none" stroke="#231f20" stroke-width="1.03"/>
<ellipse cx="980" cy="904" rx="2.5" ry="3.2" transform="rotate(25 980 904)" fill="none" stroke="#231f20" stroke-width="1.03"/>
<ellipse cx="992" cy="897" rx="2.5" ry="3.2" transform="rotate(25 992 897)" fill="none" stroke="#231f20" stroke-width="1.03"/>
<ellipse cx="1004" cy="891" rx="2.5" ry="3.2" transform="rotate(25 1004 891)" fill="none" stroke="#231f20" stroke-width="1.03"/>
<ellipse cx="958" cy="916" rx="2.5" ry="3.2" transform="rotate(25 958 916)" fill="none" stroke="#231f20" stroke-width="1.03"/>
<ellipse cx="945.5" cy="952.5" rx="5" ry="6.5" transform="rotate(25 945.5 952.5)" fill="none" stroke="#231f20" stroke-width="1.15"/>
<ellipse cx="961.1" cy="943.65" rx="5" ry="6.5" transform="rotate(25 961.1 943.65)" fill="none" stroke="#231f20" stroke-width="1.15"/>
<ellipse cx="976.7" cy="934.8" rx="5" ry="6.5" transform="rotate(25 976.7 934.8)" fill="none" stroke="#231f20" stroke-width="1.15"/>
<ellipse cx="992.3" cy="925.95" rx="5" ry="6.5" transform="rotate(25 992.3 925.95)" fill="none" stroke="#231f20" stroke-width="1.15"/>
<ellipse cx="1007.9" cy="917.1" rx="5" ry="6.5" transform="rotate(25 1007.9 917.1)" fill="none" stroke="#231f20" stroke-width="1.15"/>
<ellipse cx="1023.5" cy="908.25" rx="5" ry="6.5" transform="rotate(25 1023.5 908.25)" fill="none" stroke="#231f20" stroke-width="1.15"/>
<ellipse cx="1039.1" cy="899.4" rx="5" ry="6.5" transform="rotate(25 1039.1 899.4)" fill="none" stroke="#231f20" stroke-width="1.15"/>
<ellipse cx="1054.7" cy="890.55" rx="5" ry="6.5" transform="rotate(25 1054.7 890.55)" fill="none" stroke="#231f20" stroke-width="1.15"/>
<ellipse cx="1070.3" cy="881.7" rx="5" ry="6.5" transform="rotate(25 1070.3 881.7)" fill="none" stroke="#231f20" stroke-width="1.15"/>
<ellipse cx="1085.9" cy="872.85" rx="5" ry="6.5" transform="rotate(25 1085.9 872.85)" fill="none" stroke="#231f20" stroke-width="1.15"/>
<ellipse cx="1101.5" cy="864" rx="5" ry="6.5" transform="rotate(25 1101.5 864)" fill="none" stroke="#231f20" stroke-width="1.15"/>
<polygon points="1013,884 1050,862 1051,865 1014,888" fill="#fff" stroke="#231f20" stroke-width="1.03" stroke-linejoin="round" />
<polygon points="1054,861 1091.6,839 1092,843 1055,865" fill="#fff" stroke="#231f20" stroke-width="1.03" stroke-linejoin="round" />
<path d="M1136,849 L1200,812 C1206,810 1208,818 1203,822 L1140,858 C1134,862 1132,852 1136,849 Z" fill="none" stroke="#231f20" stroke-width="1.15" />
<polygon points="1121,862 1131,856 1133,862 1123,868" fill="#fff" stroke="#231f20" stroke-width="1.03" stroke-linejoin="round" />
<path d="M899,936.0 L914,927.5 C916,926.5 917,929.5 915,931.0 L900,939.5 C898,940.5 897,937.5 899,936.0 Z" fill="none" stroke="#231f20" stroke-width="1.15" />
<polyline points="900.5,937.5 914.5,929.5" fill="none" stroke="#231f20" stroke-width="0.57" />
<path d="M899,947.5 L914,939.0 C916,938.0 917,941.0 915,942.5 L900,951.0 C898,952.0 897,949.0 899,947.5 Z" fill="none" stroke="#231f20" stroke-width="1.15" />
<polyline points="900.5,949 914.5,941" fill="none" stroke="#231f20" stroke-width="0.57" />
<path d="M899,959.0 L914,950.5 C916,949.5 917,952.5 915,954.0 L900,962.5 C898,963.5 897,960.5 899,959.0 Z" fill="none" stroke="#231f20" stroke-width="1.15" />
<polyline points="900.5,960.5 914.5,952.5" fill="none" stroke="#231f20" stroke-width="0.57" />
<path d="M899,970.5 L914,962.0 C916,961.0 917,964.0 915,965.5 L900,974.0 C898,975.0 897,972.0 899,970.5 Z" fill="none" stroke="#231f20" stroke-width="1.15" />
<polyline points="900.5,972 914.5,964" fill="none" stroke="#231f20" stroke-width="0.57" />
<ellipse cx="908" cy="917" rx="5.8" ry="8" transform="rotate(25 908 917)" fill="none" stroke="#231f20" stroke-width="1.26"/>
<ellipse cx="911" cy="991.4" rx="5.8" ry="7.8" transform="rotate(25 911 991.4)" fill="none" stroke="#231f20" stroke-width="1.26"/>
<ellipse cx="930.6" cy="980" rx="4.5" ry="6" transform="rotate(25 930.6 980)" fill="none" stroke="#231f20" stroke-width="1.15"/>
<polyline points="881,877 920,898" fill="none" stroke="#231f20" stroke-width="0.69" stroke-dasharray="26 3 2 3"/>
<polyline points="884,886 922,906" fill="none" stroke="#231f20" stroke-width="0.69" stroke-dasharray="26 3 2 3"/>
<polyline points="884,894 923,914" fill="none" stroke="#231f20" stroke-width="0.69" stroke-dasharray="26 3 2 3"/>
<polyline points="884,902 924,921" fill="none" stroke="#231f20" stroke-width="0.69" stroke-dasharray="26 3 2 3"/>
<ellipse cx="923" cy="900" rx="0.8" ry="0.8" transform="rotate(0 923 900)" fill="none" stroke="#231f20" stroke-width="1.03"/>
<ellipse cx="923" cy="905" rx="0.8" ry="0.8" transform="rotate(0 923 905)" fill="none" stroke="#231f20" stroke-width="1.03"/>
<ellipse cx="923" cy="910" rx="0.8" ry="0.8" transform="rotate(0 923 910)" fill="none" stroke="#231f20" stroke-width="1.03"/>
<ellipse cx="923" cy="915" rx="0.8" ry="0.8" transform="rotate(0 923 915)" fill="none" stroke="#231f20" stroke-width="1.03"/>
<ellipse cx="923" cy="920" rx="0.8" ry="0.8" transform="rotate(0 923 920)" fill="none" stroke="#231f20" stroke-width="1.03"/>
<ellipse cx="900" cy="886" rx="1.2" ry="1.2" transform="rotate(0 900 886)" fill="none" stroke="#231f20" stroke-width="0.8"/>
<ellipse cx="906" cy="882" rx="1.2" ry="1.2" transform="rotate(0 906 882)" fill="none" stroke="#231f20" stroke-width="0.8"/>
<ellipse cx="913" cy="878" rx="1.2" ry="1.2" transform="rotate(0 913 878)" fill="none" stroke="#231f20" stroke-width="0.8"/>
<polyline points="897,888 914,897" fill="none" stroke="#231f20" stroke-width="0.69" />
<polyline points="883,890 918,880" fill="none" stroke="#231f20" stroke-width="0.69" stroke-dasharray="26 3 2 3"/>
<polyline points="1155,769 1211.8,802.6" fill="none" stroke="#231f20" stroke-width="0.92" stroke-dasharray="26 3 2 3"/>
<polyline points="1211.8,802.6 1268,833.7" fill="none" stroke="#231f20" stroke-width="0.8" />
<ellipse cx="1220.7" cy="806.6" rx="6" ry="7.5" transform="rotate(30 1220.7 806.6)" fill="#fff" stroke="#231f20" stroke-width="1.61"/>
<ellipse cx="1220.7" cy="806.6" rx="2.8" ry="3.8" transform="rotate(30 1220.7 806.6)" fill="none" stroke="#231f20" stroke-width="0.8"/>
<ellipse cx="1220.7" cy="806.6" rx="4.3" ry="5.6" transform="rotate(30 1220.7 806.6)" fill="none" stroke="#231f20" stroke-width="0.57"/>
<ellipse cx="1232.5" cy="813.5" rx="5.5" ry="6.5" transform="rotate(30 1232.5 813.5)" fill="#fff" stroke="#231f20" stroke-width="1.61"/>
<ellipse cx="1232.5" cy="813.5" rx="2.8" ry="3.5" transform="rotate(30 1232.5 813.5)" fill="none" stroke="#231f20" stroke-width="0.92"/>
<ellipse cx="1233" cy="813.5" rx="4" ry="5" transform="rotate(30 1233 813.5)" fill="none" stroke="#231f20" stroke-width="0.57"/>
<polyline points="1222,807.5 1240,817.5" fill="none" stroke="#231f20" stroke-width="0.8" />
<ellipse cx="1252.2" cy="824.8" rx="14" ry="18.2" transform="rotate(30 1252.2 824.8)" fill="#fff" stroke="#231f20" stroke-width="1.61"/>
<ellipse cx="1253" cy="824" rx="6.5" ry="9.5" transform="rotate(30 1253 824)" fill="none" stroke="#231f20" stroke-width="0.8"/>
<polyline points="1250,823 1268,833.7" fill="none" stroke="#231f20" stroke-width="0.8" />
<path d="M1266,867 C1258,850 1265,826 1282,817.5 C1288,815 1292,815 1296,817 L1310,828 C1320,834 1324,850 1318,865 C1312,878 1302,881 1294,879 L1282,874 Z" fill="#fff" stroke="#231f20" stroke-width="1.84" />
<ellipse cx="1290" cy="846" rx="16" ry="24" transform="rotate(30 1290 846)" fill="none" stroke="#231f20" stroke-width="1.03"/>
<ellipse cx="1297" cy="850" rx="16.5" ry="24" transform="rotate(30 1297 850)" fill="none" stroke="#231f20" stroke-width="1.72"/>
<ellipse cx="1304.4" cy="853.8" rx="17.7" ry="23.6" transform="rotate(30 1304.4 853.8)" fill="#fff" stroke="#231f20" stroke-width="1.84"/>
<ellipse cx="1305" cy="853" rx="15.5" ry="21.5" transform="rotate(30 1305 853)" fill="none" stroke="#231f20" stroke-width="0.8"/>
<path d="M106,676 L264,768 C268,770.5 276,766 281,763 L281,771.6" fill="none" stroke="#231f20" stroke-width="1.72" />
<path d="M106,676 L106,684.4 L262.5,775.7 C266,778 275,775 281,771.6" fill="none" stroke="#231f20" stroke-width="1.72" />
<polyline points="104,677 104,685" fill="none" stroke="#231f20" stroke-width="0.69" />
<polyline points="102,678 102,686" fill="none" stroke="#231f20" stroke-width="0.69" />
<polyline points="110,682 130,693" fill="none" stroke="#231f20" stroke-width="0.69" />
<polyline points="112,684 132,695" fill="none" stroke="#231f20" stroke-width="0.69" />
<polyline points="259,770 279,767" fill="none" stroke="#231f20" stroke-width="0.69" />
<polyline points="260,773 280,770" fill="none" stroke="#231f20" stroke-width="0.69" />
<polyline points="283,764 283,772" fill="none" stroke="#231f20" stroke-width="0.69" />
<polyline points="285,763 285,771" fill="none" stroke="#231f20" stroke-width="0.69" />
<polyline points="287,766 330,742" fill="none" stroke="#231f20" stroke-width="0.92" stroke-dasharray="26 3 2 3"/>
<polygon points="341,713.8 358.3,722.8 358.3,737.2 368.2,743.5 368.2,752 341,740" fill="#fff" stroke="#231f20" stroke-width="1.49" stroke-linejoin="round" />
<polyline points="344,717 355.5,723 355.5,739 365.5,745 365.5,751" fill="none" stroke="#231f20" stroke-width="0.8" />
<polygon points="331.3,719.2 334.9,718.3 337,721 337,752 342,755 342,757.5 337.6,758.7 332.2,755" fill="#fff" stroke="#231f20" stroke-width="1.49" stroke-linejoin="round" />
<polyline points="333,722 333,754" fill="none" stroke="#231f20" stroke-width="0.69" />
<polygon points="343,728 347,726 350,728 350,736 346,738 343,736" fill="#fff" stroke="#231f20" stroke-width="1.03" stroke-linejoin="round" />
<polygon points="344,744 351,740 362,746 362,758 355,761 344,755" fill="#fff" stroke="#231f20" stroke-width="1.38" stroke-linejoin="round" />
<polyline points="344,744 355,750 355,761" fill="none" stroke="#231f20" stroke-width="0.8" />
<polyline points="355,750 362,746" fill="none" stroke="#231f20" stroke-width="0.8" />
<path d="M359,749 L366,752 C371,754 371,763 366,764 L358,760 Z" fill="#fff" stroke="#231f20" stroke-width="1.38" />
<ellipse cx="366" cy="758" rx="3.5" ry="5" transform="rotate(-20 366 758)" fill="#fff" stroke="#231f20" stroke-width="1.26"/>
<ellipse cx="366.5" cy="758" rx="1.8" ry="2.5" transform="rotate(-20 366.5 758)" fill="none" stroke="#231f20" stroke-width="0.8"/>
<polygon points="361,762 366,760 369,764 364,767" fill="#fff" stroke="#231f20" stroke-width="1.03" stroke-linejoin="round" />
<path d="M335.9,696 L335.9,706 L338,708 L340.1,706 L340.1,696 Z" fill="#fff" stroke="#231f20" stroke-width="1"/>
<polyline points="335.9,698.5 340.1,699.3" fill="none" stroke="#231f20" stroke-width="0.92" />
<polyline points="335.9,701.1 340.1,701.9" fill="none" stroke="#231f20" stroke-width="0.92" />
<polyline points="335.9,703.7 340.1,704.5" fill="none" stroke="#231f20" stroke-width="0.92" />
<ellipse cx="338" cy="694" rx="5" ry="3.4" transform="rotate(0 338 694)" fill="#fff" stroke="#231f20" stroke-width="1.55"/>
<polyline points="333.2,694.3 342.8,694.3" fill="none" stroke="#231f20" stroke-width="0.69" />
<polyline points="338,707 338,757" fill="none" stroke="#231f20" stroke-width="0.92" />
<path d="M378.83,762.63 L386.09,766.17 A1.99,1.99 0 0 0 387.84,762.58 L380.58,759.04 Z" fill="#fff" stroke="#231f20" stroke-width="1.14"/>
<polyline points="381.39,763.88 383.14,760.29" fill="none" stroke="#231f20" stroke-width="0.98" />
<polyline points="383.36,764.83 385.11,761.25" fill="none" stroke="#231f20" stroke-width="0.98" />
<polyline points="385.32,765.79 387.07,762.2" fill="none" stroke="#231f20" stroke-width="0.98" />
<ellipse cx="378" cy="760" rx="3.32" ry="4.56" transform="rotate(-22 378 760)" fill="#fff" stroke="#231f20" stroke-width="1.75"/>
<ellipse cx="378.38" cy="760.19" rx="1.61" ry="2.56" transform="rotate(-22 378.38 760.19)" fill="none" stroke="#231f20" stroke-width="0.87"/>
<path d="M378.83,778.63 L386.09,782.17 A1.99,1.99 0 0 0 387.84,778.58 L380.58,775.04 Z" fill="#fff" stroke="#231f20" stroke-width="1.14"/>
<polyline points="381.39,779.88 383.14,776.29" fill="none" stroke="#231f20" stroke-width="0.98" />
<polyline points="383.36,780.83 385.11,777.25" fill="none" stroke="#231f20" stroke-width="0.98" />
<polyline points="385.32,781.79 387.07,778.2" fill="none" stroke="#231f20" stroke-width="0.98" />
<ellipse cx="378" cy="776" rx="3.32" ry="4.56" transform="rotate(-22 378 776)" fill="#fff" stroke="#231f20" stroke-width="1.75"/>
<ellipse cx="378.38" cy="776.19" rx="1.61" ry="2.56" transform="rotate(-22 378.38 776.19)" fill="none" stroke="#231f20" stroke-width="0.87"/>
<polyline points="388,765 399,772" fill="none" stroke="#231f20" stroke-width="0.8" stroke-dasharray="26 3 2 3"/>
<polyline points="388,782 400,788" fill="none" stroke="#231f20" stroke-width="0.8" stroke-dasharray="26 3 2 3"/>
<polygon points="392,770 405,763 408,766 408,792 395,798 392,796" fill="#fff" stroke="#231f20" stroke-width="1.72" stroke-linejoin="round" />
<path d="M402,777 C397,777 396,788 401,787" fill="none" stroke="#231f20" stroke-width="1.61" />
<ellipse cx="396" cy="774" rx="1.3" ry="1.3" transform="rotate(0 396 774)" fill="none" stroke="#231f20" stroke-width="0.92"/>
<ellipse cx="400" cy="772" rx="1.3" ry="1.3" transform="rotate(0 400 772)" fill="none" stroke="#231f20" stroke-width="0.92"/>
<ellipse cx="397" cy="793" rx="1.3" ry="1.3" transform="rotate(0 397 793)" fill="none" stroke="#231f20" stroke-width="0.92"/>
<ellipse cx="402" cy="790" rx="1.3" ry="1.3" transform="rotate(0 402 790)" fill="none" stroke="#231f20" stroke-width="0.92"/>
<polyline points="402,782 420,792" fill="none" stroke="#231f20" stroke-width="0.8" />
<polygon points="417,793 430,786 432,788 432,800 420,806 417,804 417,800 427,795 427,791 420,795" fill="#fff" stroke="#231f20" stroke-width="1.26" stroke-linejoin="round" />
<polyline points="419,801 427,797" fill="none" stroke="#231f20" stroke-width="0.8" />
<polyline points="441,806 520,761 530,768" fill="none" stroke="#231f20" stroke-width="0.92" stroke-dasharray="26 3 2 3"/>
<polyline points="432,797 441,806" fill="none" stroke="#231f20" stroke-width="0.69" stroke-dasharray="26 3 2 3"/>
<ellipse cx="856" cy="859" rx="3.6" ry="3.2" transform="rotate(0 856 859)" fill="#fff" stroke="#231f20" stroke-width="1.49"/>
<ellipse cx="856" cy="859" rx="1.5" ry="1.3" transform="rotate(0 856 859)" fill="none" stroke="#231f20" stroke-width="0.69"/>
<ellipse cx="856" cy="866.5" rx="3.6" ry="3.2" transform="rotate(0 856 866.5)" fill="#fff" stroke="#231f20" stroke-width="1.49"/>
<ellipse cx="856" cy="866.5" rx="1.5" ry="1.3" transform="rotate(0 856 866.5)" fill="none" stroke="#231f20" stroke-width="0.69"/>
<ellipse cx="856" cy="874" rx="3.6" ry="3.2" transform="rotate(0 856 874)" fill="#fff" stroke="#231f20" stroke-width="1.49"/>
<ellipse cx="856" cy="874" rx="1.5" ry="1.3" transform="rotate(0 856 874)" fill="none" stroke="#231f20" stroke-width="0.69"/>
<ellipse cx="856" cy="881.5" rx="3.6" ry="3.2" transform="rotate(0 856 881.5)" fill="#fff" stroke="#231f20" stroke-width="1.49"/>
<ellipse cx="856" cy="881.5" rx="1.5" ry="1.3" transform="rotate(0 856 881.5)" fill="none" stroke="#231f20" stroke-width="0.69"/>
<polyline points="860,861 881,872" fill="none" stroke="#231f20" stroke-width="0.69" />
<polyline points="860,868.5 881,879.5" fill="none" stroke="#231f20" stroke-width="0.69" />
<polyline points="860,876 881,887" fill="none" stroke="#231f20" stroke-width="0.69" />
<polyline points="860,883.5 881,894.5" fill="none" stroke="#231f20" stroke-width="0.69" />
<polygon points="832,941 852,933 854,938 834,947" fill="#ccc" stroke="#231f20" stroke-width="1.03" stroke-linejoin="round" />
<polyline points="835,939 836,945" fill="none" stroke="#231f20" stroke-width="0.69" />
<polyline points="838,937.8 839,943.8" fill="none" stroke="#231f20" stroke-width="0.69" />
<polyline points="841,936.6 842,942.6" fill="none" stroke="#231f20" stroke-width="0.69" />
<polyline points="844,935.4 845,941.4" fill="none" stroke="#231f20" stroke-width="0.69" />
<polyline points="847,934.2 848,940.2" fill="none" stroke="#231f20" stroke-width="0.69" />
<polyline points="850,933 851,939" fill="none" stroke="#231f20" stroke-width="0.69" />
<polyline points="833,932 900,895" fill="none" stroke="#231f20" stroke-width="0.69" stroke-dasharray="26 3 2 3"/>
<path d="M872,1050 L872,1040.6 L874,1038.6 L876,1040.6 L876,1050 Z" fill="#fff" stroke="#231f20" stroke-width="0.95"/>
<polyline points="872,1047.72 876,1046.92" fill="none" stroke="#231f20" stroke-width="0.87" />
<polyline points="872,1045.26 876,1044.46" fill="none" stroke="#231f20" stroke-width="0.87" />
<polyline points="872,1042.79 876,1041.99" fill="none" stroke="#231f20" stroke-width="0.87" />
<ellipse cx="874" cy="1052" rx="4.75" ry="3.23" transform="rotate(0 874 1052)" fill="#fff" stroke="#231f20" stroke-width="1.47"/>
<polyline points="869.44,1051.7 878.56,1051.7" fill="none" stroke="#231f20" stroke-width="0.66" />
<polyline points="874,1036 874,1018" fill="none" stroke="#231f20" stroke-width="0.8" stroke-dasharray="26 3 2 3"/>
<ellipse cx="874" cy="1018" rx="2.8" ry="1.8" transform="rotate(0 874 1018)" fill="none" stroke="#231f20" stroke-width="0.69"/>
<path d="M926.5,1028 L926.5,1018.6 L928.5,1016.6 L930.5,1018.6 L930.5,1028 Z" fill="#fff" stroke="#231f20" stroke-width="0.95"/>
<polyline points="926.5,1025.72 930.5,1024.92" fill="none" stroke="#231f20" stroke-width="0.87" />
<polyline points="926.5,1023.25 930.5,1022.46" fill="none" stroke="#231f20" stroke-width="0.87" />
<polyline points="926.5,1020.78 930.5,1019.99" fill="none" stroke="#231f20" stroke-width="0.87" />
<ellipse cx="928.5" cy="1030" rx="4.75" ry="3.23" transform="rotate(0 928.5 1030)" fill="#fff" stroke="#231f20" stroke-width="1.47"/>
<polyline points="923.94,1029.7 933.06,1029.7" fill="none" stroke="#231f20" stroke-width="0.66" />
<polyline points="928.5,1014 928.5,995" fill="none" stroke="#231f20" stroke-width="0.8" stroke-dasharray="26 3 2 3"/>
<ellipse cx="928.5" cy="995" rx="2.8" ry="1.8" transform="rotate(0 928.5 995)" fill="none" stroke="#231f20" stroke-width="0.69"/>
<path d="M1033.01,973 L1033.01,963.6 L1035,961.6 L1036.99,963.6 L1036.99,973 Z" fill="#fff" stroke="#231f20" stroke-width="0.95"/>
<polyline points="1033.01,970.73 1036.99,969.93" fill="none" stroke="#231f20" stroke-width="0.87" />
<polyline points="1033.01,968.25 1036.99,967.46" fill="none" stroke="#231f20" stroke-width="0.87" />
<polyline points="1033.01,965.78 1036.99,964.99" fill="none" stroke="#231f20" stroke-width="0.87" />
<ellipse cx="1035" cy="975" rx="4.75" ry="3.23" transform="rotate(0 1035 975)" fill="#fff" stroke="#231f20" stroke-width="1.47"/>
<polyline points="1030.44,974.7 1039.56,974.7" fill="none" stroke="#231f20" stroke-width="0.66" />
<polyline points="1035,959 1035,942" fill="none" stroke="#231f20" stroke-width="0.8" stroke-dasharray="26 3 2 3"/>
<ellipse cx="1035" cy="942" rx="2.8" ry="1.8" transform="rotate(0 1035 942)" fill="none" stroke="#231f20" stroke-width="0.69"/>
<path d="M1086.51,935 L1086.51,925.6 L1088.5,923.6 L1090.49,925.6 L1090.49,935 Z" fill="#fff" stroke="#231f20" stroke-width="0.95"/>
<polyline points="1086.51,932.73 1090.49,931.93" fill="none" stroke="#231f20" stroke-width="0.87" />
<polyline points="1086.51,930.25 1090.49,929.46" fill="none" stroke="#231f20" stroke-width="0.87" />
<polyline points="1086.51,927.78 1090.49,926.99" fill="none" stroke="#231f20" stroke-width="0.87" />
<ellipse cx="1088.5" cy="937" rx="4.75" ry="3.23" transform="rotate(0 1088.5 937)" fill="#fff" stroke="#231f20" stroke-width="1.47"/>
<polyline points="1083.94,936.7 1093.06,936.7" fill="none" stroke="#231f20" stroke-width="0.66" />
<polyline points="1088.5,921 1088.5,905" fill="none" stroke="#231f20" stroke-width="0.8" stroke-dasharray="26 3 2 3"/>
<ellipse cx="1088.5" cy="905" rx="2.8" ry="1.8" transform="rotate(0 1088.5 905)" fill="none" stroke="#231f20" stroke-width="0.69"/>
<path d="M1108.01,933 L1108.01,923.6 L1110,921.6 L1111.99,923.6 L1111.99,933 Z" fill="#fff" stroke="#231f20" stroke-width="0.95"/>
<polyline points="1108.01,930.73 1111.99,929.93" fill="none" stroke="#231f20" stroke-width="0.87" />
<polyline points="1108.01,928.25 1111.99,927.46" fill="none" stroke="#231f20" stroke-width="0.87" />
<polyline points="1108.01,925.78 1111.99,924.99" fill="none" stroke="#231f20" stroke-width="0.87" />
<ellipse cx="1110" cy="935" rx="4.75" ry="3.23" transform="rotate(0 1110 935)" fill="#fff" stroke="#231f20" stroke-width="1.47"/>
<polyline points="1105.44,934.7 1114.56,934.7" fill="none" stroke="#231f20" stroke-width="0.66" />
<polyline points="1110,919 1110,885" fill="none" stroke="#231f20" stroke-width="0.8" stroke-dasharray="26 3 2 3"/>
<ellipse cx="1110" cy="885" rx="2.8" ry="1.8" transform="rotate(0 1110 885)" fill="none" stroke="#231f20" stroke-width="0.69"/>
<path d="M1128.01,910 L1128.01,900.6 L1130,898.6 L1131.99,900.6 L1131.99,910 Z" fill="#fff" stroke="#231f20" stroke-width="0.95"/>
<polyline points="1128.01,907.73 1131.99,906.93" fill="none" stroke="#231f20" stroke-width="0.87" />
<polyline points="1128.01,905.25 1131.99,904.46" fill="none" stroke="#231f20" stroke-width="0.87" />
<polyline points="1128.01,902.78 1131.99,901.99" fill="none" stroke="#231f20" stroke-width="0.87" />
<ellipse cx="1130" cy="912" rx="4.75" ry="3.23" transform="rotate(0 1130 912)" fill="#fff" stroke="#231f20" stroke-width="1.47"/>
<polyline points="1125.44,911.7 1134.56,911.7" fill="none" stroke="#231f20" stroke-width="0.66" />
<polyline points="1130,896 1130,893" fill="none" stroke="#231f20" stroke-width="0.8" stroke-dasharray="26 3 2 3"/>
<ellipse cx="1130" cy="893" rx="2.8" ry="1.8" transform="rotate(0 1130 893)" fill="none" stroke="#231f20" stroke-width="0.69"/>
<path d="M1171.01,891 L1171.01,881.6 L1173,879.6 L1174.99,881.6 L1174.99,891 Z" fill="#fff" stroke="#231f20" stroke-width="0.95"/>
<polyline points="1171.01,888.73 1174.99,887.93" fill="none" stroke="#231f20" stroke-width="0.87" />
<polyline points="1171.01,886.25 1174.99,885.46" fill="none" stroke="#231f20" stroke-width="0.87" />
<polyline points="1171.01,883.78 1174.99,882.99" fill="none" stroke="#231f20" stroke-width="0.87" />
<ellipse cx="1173" cy="893" rx="4.75" ry="3.23" transform="rotate(0 1173 893)" fill="#fff" stroke="#231f20" stroke-width="1.47"/>
<polyline points="1168.44,892.7 1177.56,892.7" fill="none" stroke="#231f20" stroke-width="0.66" />
<polyline points="1173,877 1173,845" fill="none" stroke="#231f20" stroke-width="0.8" stroke-dasharray="26 3 2 3"/>
<ellipse cx="1173" cy="845" rx="2.8" ry="1.8" transform="rotate(0 1173 845)" fill="none" stroke="#231f20" stroke-width="0.69"/>
<rect x="1283" y="2" width="160" height="44" fill="#231f20"/>
<text transform="translate(1361.9 33.9) scale(0.88 1)" text-anchor="middle" style="font-family:'Liberation Sans',sans-serif;font-weight:bold;font-size:27.9px;fill:#fff">DTR-70.1</text>
<rect x="1398" y="957" width="45" height="160" fill="#231f20"/>
<text transform="translate(1411 1035) rotate(90) scale(0.88 1)" text-anchor="middle" style="font-family:'Liberation Sans',sans-serif;font-weight:bold;font-size:27.9px;fill:#fff">DTR-70.1</text>
<text x="89.7" y="140" style="font-family:'Liberation Sans',sans-serif;font-weight:bold;font-size:25.6px;fill:#231f20;stroke:#231f20;stroke-width:0.3px" letter-spacing="-0.22">EXPLODED VIEWS-3</text>
<text x="217.8" y="215" class="b">P8641</text>
<text x="110.8" y="300" class="b">P3101</text>
<text x="168.55" y="329" class="b">A653</text>
<text x="307.92" y="293" class="b">U0057</text>
<text x="166.92" y="371" class="b">U0101</text>
<text x="577.55" y="176.6" class="b">A215</text>
<text x="576.52" y="195.6" class="r" letter-spacing="0.45">L=110mm</text>
<text x="458.55" y="213.6" class="b">A693</text>
<text x="548.8" y="292" class="b">P7501</text>
<text x="403.55" y="316" class="b">A691</text>
<text x="403.8" y="335" class="r">x 2pcs.</text>
<text x="468.52" y="364.4" class="b">U0050</text>
<text x="623.15" y="319.6" class="b">A691</text>
<text x="683.55" y="292.6" class="b">A655</text>
<text x="683.8" y="311.6" class="r">x 2 pcs.</text>
<text x="749.92" y="342.4" class="b">U0054</text>
<text x="619.15" y="413" class="b">A653</text>
<text x="619.4" y="431" class="r">x 2 pcs.</text>
<text x="689.92" y="443" class="b">U0056</text>
<text x="586.92" y="469.6" class="b">U0053</text>
<text x="807.55" y="433.6" class="b">A659</text>
<text x="807.8" y="452" class="r">x 3 pcs.</text>
<text x="173.95" y="398.4" class="b">A647</text>
<text x="191.95" y="430" class="b">A645</text>
<text x="123.15" y="448" class="b">A651</text>
<text x="123.4" y="466.6" class="r">x 19 pcs.</text>
<text x="570.55" y="519.6" class="b">A672</text>
<text x="570.8" y="538" class="r">x 2 pcs.</text>
<text x="917.95" y="482" class="b">A215</text>
<text x="916.92" y="498.6" class="r">L=30mm</text>
<text x="917.95" y="604.4" class="b">A215</text>
<text x="916.92" y="621" class="r">L=30mm</text>
<text x="978.55" y="529" class="b">A638</text>
<text x="1027.55" y="551" class="b">A635</text>
<text x="1040.55" y="605.5" class="b">A637</text>
<text x="1040.8" y="621" class="r">x 2 pcs.</text>
<text x="574.05" y="593" class="b">A631</text>
<text x="422.55" y="666" class="b">A215</text>
<text x="421.52" y="682.4" class="r">L=30mm</text>
<text x="395.15" y="748.6" class="b">A639</text>
<text x="414.55" y="834" class="b">A641</text>
<text x="438.55" y="860.9" class="b">A215</text>
<text x="437.52" y="877.5" class="r">L=30mm</text>
<text x="643.55" y="815" class="b">A633</text>
<text x="305.55" y="674.6" class="b">A661</text>
<text x="354.92" y="703" class="b">U0052</text>
<text x="182.33" y="702" class="b">JL4103</text>
<text x="337.55" y="810.7" class="b">A643</text>
<text x="337.8" y="828.6" class="r">x 2 pcs.</text>
<text x="871.15" y="664.4" class="b">A613</text>
<text x="928.55" y="691.6" class="b">A611</text>
<text x="971.55" y="716" class="b">A615</text>
<text x="1095.05" y="674.6" class="b">A607</text>
<text x="1220.55" y="695" class="b">A601</text>
<text x="1247.55" y="788" class="b">A685</text>
<text x="1294.55" y="806" class="b">A681</text>
<text x="783.85" y="893.5" class="b">A605</text>
<text x="784.1" y="912" class="r">x 4 pcs.</text>
<text x="824.95" y="974" class="b">A603</text>
<text x="949.55" y="1044.5" class="b">A663</text>
<text x="949.8" y="1062" class="r">x 3 pcs.</text>
<text x="1171.55" y="928" class="b">A657</text>
<text x="1171.8" y="946" class="r">x 3 pcs.</text>
<text x="1105.55" y="972" class="b">A649</text>
<text x="1105.28" y="990.5" class="r" letter-spacing="-0.9">(3TTBx10B)</text>
<text x="187.52" y="604.8" class="b">U0051</text>
<text x="241.95" y="618" class="b">A049</text>
<polyline points="236,221 216,243" fill="none" stroke="#231f20" stroke-width="1.15" />
<polyline points="136,283 157,262" fill="none" stroke="#231f20" stroke-width="1.15" />
<polyline points="201,331 222,343" fill="none" stroke="#231f20" stroke-width="1.15" />
<polyline points="331,297 340,311" fill="none" stroke="#231f20" stroke-width="1.15" />
<polyline points="569,184 538,200" fill="none" stroke="#231f20" stroke-width="1.15" />
<polyline points="472,217 458,229" fill="none" stroke="#231f20" stroke-width="1.15" />
<polyline points="559,296 540,310" fill="none" stroke="#231f20" stroke-width="1.15" />
<polyline points="399,326 378,335" fill="none" stroke="#231f20" stroke-width="1.15" />
<polyline points="491,368 484,389" fill="none" stroke="#231f20" stroke-width="1.15" />
<polyline points="645,323 662,340" fill="none" stroke="#231f20" stroke-width="1.15" />
<polyline points="699,314 701,331" fill="none" stroke="#231f20" stroke-width="1.15" />
<polyline points="761,346 740,363" fill="none" stroke="#231f20" stroke-width="1.15" />
<polyline points="655,436 666,450" fill="none" stroke="#231f20" stroke-width="1.15" />
<polyline points="708,447 700,462" fill="none" stroke="#231f20" stroke-width="1.15" />
<polyline points="619,474 640,493" fill="none" stroke="#231f20" stroke-width="1.15" />
<polyline points="821,455 812,470" fill="none" stroke="#231f20" stroke-width="1.15" />
<polyline points="220,367.6 262,390" fill="none" stroke="#231f20" stroke-width="1.15" />
<polyline points="217,393 236,398" fill="none" stroke="#231f20" stroke-width="1.15" />
<polyline points="237,426 261,427" fill="none" stroke="#231f20" stroke-width="1.15" />
<polyline points="168,470 186,484" fill="none" stroke="#231f20" stroke-width="1.15" />
<polyline points="617,541 641,552" fill="none" stroke="#231f20" stroke-width="1.15" />
<polyline points="915,491 898,498" fill="none" stroke="#231f20" stroke-width="1.15" />
<polyline points="913,604 898,601" fill="none" stroke="#231f20" stroke-width="1.15" />
<polyline points="992,533 980,549" fill="none" stroke="#231f20" stroke-width="1.15" />
<polyline points="1036,555 1019,568" fill="none" stroke="#231f20" stroke-width="1.15" />
<polyline points="1038,611 1023,616" fill="none" stroke="#231f20" stroke-width="1.15" />
<polyline points="601,596 620,616" fill="none" stroke="#231f20" stroke-width="1.15" />
<polyline points="467,686 494,706" fill="none" stroke="#231f20" stroke-width="1.15" />
<polyline points="413,751 403,766" fill="none" stroke="#231f20" stroke-width="1.15" />
<polyline points="430,819 424,802" fill="none" stroke="#231f20" stroke-width="1.15" />
<polyline points="473,846 496,829" fill="none" stroke="#231f20" stroke-width="1.15" />
<polyline points="667,800 671,786" fill="none" stroke="#231f20" stroke-width="1.15" />
<polyline points="329,678 335,690" fill="none" stroke="#231f20" stroke-width="1.15" />
<polyline points="373,707 359,724" fill="none" stroke="#231f20" stroke-width="1.15" />
<polyline points="205,707 191,725" fill="none" stroke="#231f20" stroke-width="1.15" />
<polyline points="365,795 375,781" fill="none" stroke="#231f20" stroke-width="1.15" />
<polyline points="889,668 868,684" fill="none" stroke="#231f20" stroke-width="1.15" />
<polyline points="941,696 921,714" fill="none" stroke="#231f20" stroke-width="1.15" />
<polyline points="992,720 971,738" fill="none" stroke="#231f20" stroke-width="1.15" />
<polyline points="1101,677 1084,690" fill="none" stroke="#231f20" stroke-width="1.15" />
<polyline points="1230,697 1210,713" fill="none" stroke="#231f20" stroke-width="1.15" />
<polyline points="1265,790 1259,807" fill="none" stroke="#231f20" stroke-width="1.15" />
<polyline points="1308,808 1301,819" fill="none" stroke="#231f20" stroke-width="1.15" />
<polyline points="833,886 853.6,881.6" fill="none" stroke="#231f20" stroke-width="1.15" />
<polyline points="846,960 844,944" fill="none" stroke="#231f20" stroke-width="1.15" />
<polyline points="949,1038 934,1032.5" fill="none" stroke="#231f20" stroke-width="1.15" />
<polyline points="1184,914 1176,901" fill="none" stroke="#231f20" stroke-width="1.15" />
<polyline points="1120,958 1112,943" fill="none" stroke="#231f20" stroke-width="1.15" />
<polyline points="231,590 253.6,576" fill="none" stroke="#231f20" stroke-width="1.15" />
<polyline points="268,605 319,537" fill="none" stroke="#231f20" stroke-width="1.15" />
</svg>
</body></html>
